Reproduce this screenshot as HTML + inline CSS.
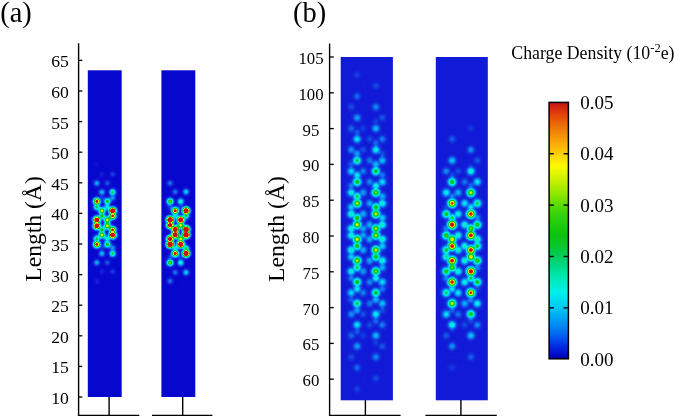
<!DOCTYPE html>
<html><head><meta charset="utf-8"><title>Charge density</title>
<style>
html,body{margin:0;padding:0;background:#fff;}
body{width:675px;height:418px;overflow:hidden;font-family:"Liberation Serif",serif;}
svg{display:block}
text{font-family:"Liberation Serif",serif;fill:#000}
.hm circle{mix-blend-mode:lighten}
.tk{font-size:17.6px}
.tkb{font-size:16.8px}
.tkc{font-size:19px}
.pl{font-size:28.4px}
.yl{font-size:24.2px}
.cl{font-size:17.8px}
</style></head><body>
<svg width="675" height="418" viewBox="0 0 675 418">
<defs>
<filter id="jet" filterUnits="userSpaceOnUse" x="0" y="0" width="675" height="418" color-interpolation-filters="sRGB">
<feComponentTransfer>
<feFuncR type="table" tableValues="0.000 0.000 0.001 0.017 0.069 0.074 0.070 0.065 0.060 0.050 0.038 0.026 0.014 0.001 0.000 0.000 0.000 0.000 0.000 0.000 0.000 0.000 0.000 0.000 0.000 0.000 0.006 0.019 0.033 0.039 0.039 0.042 0.074 0.106 0.138 0.169 0.206 0.267 0.328 0.400 0.479 0.556 0.620 0.685 0.749 0.812 0.872 0.932 0.992 0.997 0.993 0.989 0.984 0.980 0.975 0.966 0.952 0.939 0.925 0.916 0.908 0.894 0.852 0.810 0.769"/>
<feFuncG type="table" tableValues="0.000 0.000 0.001 0.017 0.082 0.170 0.261 0.351 0.442 0.512 0.574 0.635 0.696 0.757 0.813 0.868 0.924 0.935 0.927 0.918 0.910 0.900 0.877 0.853 0.833 0.815 0.801 0.794 0.787 0.780 0.772 0.766 0.778 0.790 0.802 0.814 0.826 0.841 0.857 0.872 0.888 0.903 0.914 0.925 0.935 0.946 0.957 0.968 0.979 0.930 0.873 0.815 0.762 0.708 0.655 0.603 0.550 0.497 0.444 0.385 0.324 0.262 0.201 0.140 0.078"/>
<feFuncB type="table" tableValues="0.549 0.651 0.749 0.795 0.837 0.863 0.887 0.910 0.934 0.944 0.948 0.952 0.956 0.960 0.955 0.949 0.943 0.901 0.841 0.782 0.722 0.662 0.599 0.536 0.468 0.396 0.325 0.255 0.186 0.134 0.095 0.058 0.054 0.051 0.047 0.043 0.037 0.021 0.006 0.000 0.000 0.000 0.000 0.000 0.000 0.000 0.000 0.000 0.000 0.011 0.024 0.037 0.037 0.035 0.033 0.030 0.027 0.024 0.020 0.025 0.033 0.041 0.051 0.061 0.071"/>
</feComponentTransfer>
<feGaussianBlur stdDeviation="0.6"/>
</filter>
<radialGradient id="g0"><stop offset="0.000" stop-color="rgb(26,26,26)"/><stop offset="0.062" stop-color="rgb(26,26,26)"/><stop offset="0.125" stop-color="rgb(25,25,25)"/><stop offset="0.188" stop-color="rgb(23,23,23)"/><stop offset="0.250" stop-color="rgb(21,21,21)"/><stop offset="0.312" stop-color="rgb(19,19,19)"/><stop offset="0.375" stop-color="rgb(17,17,17)"/><stop offset="0.438" stop-color="rgb(16,16,16)"/><stop offset="0.500" stop-color="rgb(15,15,15)"/><stop offset="0.562" stop-color="rgb(14,14,14)"/><stop offset="0.625" stop-color="rgb(14,14,14)"/><stop offset="0.688" stop-color="rgb(13,13,13)"/><stop offset="0.750" stop-color="rgb(13,13,13)"/><stop offset="0.812" stop-color="rgb(13,13,13)"/><stop offset="0.875" stop-color="rgb(13,13,13)"/><stop offset="0.938" stop-color="rgb(13,13,13)"/><stop offset="1.000" stop-color="rgb(13,13,13)"/></radialGradient>
<radialGradient id="g1"><stop offset="0.000" stop-color="rgb(46,46,46)"/><stop offset="0.062" stop-color="rgb(45,45,45)"/><stop offset="0.125" stop-color="rgb(43,43,43)"/><stop offset="0.188" stop-color="rgb(38,38,38)"/><stop offset="0.250" stop-color="rgb(34,34,34)"/><stop offset="0.312" stop-color="rgb(29,29,29)"/><stop offset="0.375" stop-color="rgb(24,24,24)"/><stop offset="0.438" stop-color="rgb(21,21,21)"/><stop offset="0.500" stop-color="rgb(18,18,18)"/><stop offset="0.562" stop-color="rgb(16,16,16)"/><stop offset="0.625" stop-color="rgb(15,15,15)"/><stop offset="0.688" stop-color="rgb(14,14,14)"/><stop offset="0.750" stop-color="rgb(13,13,13)"/><stop offset="0.812" stop-color="rgb(13,13,13)"/><stop offset="0.875" stop-color="rgb(13,13,13)"/><stop offset="0.938" stop-color="rgb(13,13,13)"/><stop offset="1.000" stop-color="rgb(13,13,13)"/></radialGradient>
<radialGradient id="g2"><stop offset="0.000" stop-color="rgb(40,40,40)"/><stop offset="0.062" stop-color="rgb(39,39,39)"/><stop offset="0.125" stop-color="rgb(37,37,37)"/><stop offset="0.188" stop-color="rgb(33,33,33)"/><stop offset="0.250" stop-color="rgb(29,29,29)"/><stop offset="0.312" stop-color="rgb(25,25,25)"/><stop offset="0.375" stop-color="rgb(22,22,22)"/><stop offset="0.438" stop-color="rgb(19,19,19)"/><stop offset="0.500" stop-color="rgb(17,17,17)"/><stop offset="0.562" stop-color="rgb(15,15,15)"/><stop offset="0.625" stop-color="rgb(14,14,14)"/><stop offset="0.688" stop-color="rgb(14,14,14)"/><stop offset="0.750" stop-color="rgb(13,13,13)"/><stop offset="0.812" stop-color="rgb(13,13,13)"/><stop offset="0.875" stop-color="rgb(13,13,13)"/><stop offset="0.938" stop-color="rgb(13,13,13)"/><stop offset="1.000" stop-color="rgb(13,13,13)"/></radialGradient>
<radialGradient id="g3"><stop offset="0.000" stop-color="rgb(33,33,33)"/><stop offset="0.062" stop-color="rgb(32,32,32)"/><stop offset="0.125" stop-color="rgb(31,31,31)"/><stop offset="0.188" stop-color="rgb(28,28,28)"/><stop offset="0.250" stop-color="rgb(25,25,25)"/><stop offset="0.312" stop-color="rgb(22,22,22)"/><stop offset="0.375" stop-color="rgb(20,20,20)"/><stop offset="0.438" stop-color="rgb(17,17,17)"/><stop offset="0.500" stop-color="rgb(16,16,16)"/><stop offset="0.562" stop-color="rgb(15,15,15)"/><stop offset="0.625" stop-color="rgb(14,14,14)"/><stop offset="0.688" stop-color="rgb(13,13,13)"/><stop offset="0.750" stop-color="rgb(13,13,13)"/><stop offset="0.812" stop-color="rgb(13,13,13)"/><stop offset="0.875" stop-color="rgb(13,13,13)"/><stop offset="0.938" stop-color="rgb(13,13,13)"/><stop offset="1.000" stop-color="rgb(13,13,13)"/></radialGradient>
<radialGradient id="g4"><stop offset="0.000" stop-color="rgb(107,107,107)"/><stop offset="0.062" stop-color="rgb(104,104,104)"/><stop offset="0.125" stop-color="rgb(96,96,96)"/><stop offset="0.188" stop-color="rgb(85,85,85)"/><stop offset="0.250" stop-color="rgb(71,71,71)"/><stop offset="0.312" stop-color="rgb(57,57,57)"/><stop offset="0.375" stop-color="rgb(45,45,45)"/><stop offset="0.438" stop-color="rgb(35,35,35)"/><stop offset="0.500" stop-color="rgb(27,27,27)"/><stop offset="0.562" stop-color="rgb(22,22,22)"/><stop offset="0.625" stop-color="rgb(18,18,18)"/><stop offset="0.688" stop-color="rgb(16,16,16)"/><stop offset="0.750" stop-color="rgb(15,15,15)"/><stop offset="0.812" stop-color="rgb(14,14,14)"/><stop offset="0.875" stop-color="rgb(13,13,13)"/><stop offset="0.938" stop-color="rgb(13,13,13)"/><stop offset="1.000" stop-color="rgb(13,13,13)"/></radialGradient>
<radialGradient id="g5"><stop offset="0.000" stop-color="rgb(67,67,67)"/><stop offset="0.062" stop-color="rgb(65,65,65)"/><stop offset="0.125" stop-color="rgb(60,60,60)"/><stop offset="0.188" stop-color="rgb(54,54,54)"/><stop offset="0.250" stop-color="rgb(46,46,46)"/><stop offset="0.312" stop-color="rgb(38,38,38)"/><stop offset="0.375" stop-color="rgb(31,31,31)"/><stop offset="0.438" stop-color="rgb(25,25,25)"/><stop offset="0.500" stop-color="rgb(21,21,21)"/><stop offset="0.562" stop-color="rgb(18,18,18)"/><stop offset="0.625" stop-color="rgb(16,16,16)"/><stop offset="0.688" stop-color="rgb(15,15,15)"/><stop offset="0.750" stop-color="rgb(14,14,14)"/><stop offset="0.812" stop-color="rgb(13,13,13)"/><stop offset="0.875" stop-color="rgb(13,13,13)"/><stop offset="0.938" stop-color="rgb(13,13,13)"/><stop offset="1.000" stop-color="rgb(13,13,13)"/></radialGradient>
<radialGradient id="g6"><stop offset="0.000" stop-color="rgb(80,80,80)"/><stop offset="0.062" stop-color="rgb(78,78,78)"/><stop offset="0.125" stop-color="rgb(72,72,72)"/><stop offset="0.188" stop-color="rgb(64,64,64)"/><stop offset="0.250" stop-color="rgb(54,54,54)"/><stop offset="0.312" stop-color="rgb(45,45,45)"/><stop offset="0.375" stop-color="rgb(36,36,36)"/><stop offset="0.438" stop-color="rgb(29,29,29)"/><stop offset="0.500" stop-color="rgb(23,23,23)"/><stop offset="0.562" stop-color="rgb(19,19,19)"/><stop offset="0.625" stop-color="rgb(17,17,17)"/><stop offset="0.688" stop-color="rgb(15,15,15)"/><stop offset="0.750" stop-color="rgb(14,14,14)"/><stop offset="0.812" stop-color="rgb(13,13,13)"/><stop offset="0.875" stop-color="rgb(13,13,13)"/><stop offset="0.938" stop-color="rgb(13,13,13)"/><stop offset="1.000" stop-color="rgb(13,13,13)"/></radialGradient>
<radialGradient id="g7"><stop offset="0.000" stop-color="rgb(87,87,87)"/><stop offset="0.062" stop-color="rgb(85,85,85)"/><stop offset="0.125" stop-color="rgb(78,78,78)"/><stop offset="0.188" stop-color="rgb(69,69,69)"/><stop offset="0.250" stop-color="rgb(59,59,59)"/><stop offset="0.312" stop-color="rgb(48,48,48)"/><stop offset="0.375" stop-color="rgb(38,38,38)"/><stop offset="0.438" stop-color="rgb(30,30,30)"/><stop offset="0.500" stop-color="rgb(24,24,24)"/><stop offset="0.562" stop-color="rgb(20,20,20)"/><stop offset="0.625" stop-color="rgb(17,17,17)"/><stop offset="0.688" stop-color="rgb(15,15,15)"/><stop offset="0.750" stop-color="rgb(14,14,14)"/><stop offset="0.812" stop-color="rgb(14,14,14)"/><stop offset="0.875" stop-color="rgb(13,13,13)"/><stop offset="0.938" stop-color="rgb(13,13,13)"/><stop offset="1.000" stop-color="rgb(13,13,13)"/></radialGradient>
<radialGradient id="g8"><stop offset="0.000" stop-color="rgb(100,100,100)"/><stop offset="0.062" stop-color="rgb(98,98,98)"/><stop offset="0.125" stop-color="rgb(90,90,90)"/><stop offset="0.188" stop-color="rgb(79,79,79)"/><stop offset="0.250" stop-color="rgb(67,67,67)"/><stop offset="0.312" stop-color="rgb(54,54,54)"/><stop offset="0.375" stop-color="rgb(43,43,43)"/><stop offset="0.438" stop-color="rgb(33,33,33)"/><stop offset="0.500" stop-color="rgb(26,26,26)"/><stop offset="0.562" stop-color="rgb(21,21,21)"/><stop offset="0.625" stop-color="rgb(18,18,18)"/><stop offset="0.688" stop-color="rgb(16,16,16)"/><stop offset="0.750" stop-color="rgb(14,14,14)"/><stop offset="0.812" stop-color="rgb(14,14,14)"/><stop offset="0.875" stop-color="rgb(13,13,13)"/><stop offset="0.938" stop-color="rgb(13,13,13)"/><stop offset="1.000" stop-color="rgb(13,13,13)"/></radialGradient>
<radialGradient id="g9"><stop offset="0.000" stop-color="rgb(167,167,167)"/><stop offset="0.062" stop-color="rgb(163,163,163)"/><stop offset="0.125" stop-color="rgb(150,150,150)"/><stop offset="0.188" stop-color="rgb(131,131,131)"/><stop offset="0.250" stop-color="rgb(108,108,108)"/><stop offset="0.312" stop-color="rgb(86,86,86)"/><stop offset="0.375" stop-color="rgb(66,66,66)"/><stop offset="0.438" stop-color="rgb(49,49,49)"/><stop offset="0.500" stop-color="rgb(37,37,37)"/><stop offset="0.562" stop-color="rgb(28,28,28)"/><stop offset="0.625" stop-color="rgb(22,22,22)"/><stop offset="0.688" stop-color="rgb(18,18,18)"/><stop offset="0.750" stop-color="rgb(16,16,16)"/><stop offset="0.812" stop-color="rgb(14,14,14)"/><stop offset="0.875" stop-color="rgb(14,14,14)"/><stop offset="0.938" stop-color="rgb(13,13,13)"/><stop offset="1.000" stop-color="rgb(13,13,13)"/></radialGradient>
<radialGradient id="g10"><stop offset="0.000" stop-color="rgb(120,120,120)"/><stop offset="0.062" stop-color="rgb(117,117,117)"/><stop offset="0.125" stop-color="rgb(108,108,108)"/><stop offset="0.188" stop-color="rgb(95,95,95)"/><stop offset="0.250" stop-color="rgb(79,79,79)"/><stop offset="0.312" stop-color="rgb(64,64,64)"/><stop offset="0.375" stop-color="rgb(50,50,50)"/><stop offset="0.438" stop-color="rgb(38,38,38)"/><stop offset="0.500" stop-color="rgb(29,29,29)"/><stop offset="0.562" stop-color="rgb(23,23,23)"/><stop offset="0.625" stop-color="rgb(19,19,19)"/><stop offset="0.688" stop-color="rgb(16,16,16)"/><stop offset="0.750" stop-color="rgb(15,15,15)"/><stop offset="0.812" stop-color="rgb(14,14,14)"/><stop offset="0.875" stop-color="rgb(13,13,13)"/><stop offset="0.938" stop-color="rgb(13,13,13)"/><stop offset="1.000" stop-color="rgb(13,13,13)"/></radialGradient>
<radialGradient id="g11"><stop offset="0.000" stop-color="rgb(181,181,181)"/><stop offset="0.062" stop-color="rgb(176,176,176)"/><stop offset="0.125" stop-color="rgb(162,162,162)"/><stop offset="0.188" stop-color="rgb(141,141,141)"/><stop offset="0.250" stop-color="rgb(117,117,117)"/><stop offset="0.312" stop-color="rgb(92,92,92)"/><stop offset="0.375" stop-color="rgb(70,70,70)"/><stop offset="0.438" stop-color="rgb(52,52,52)"/><stop offset="0.500" stop-color="rgb(39,39,39)"/><stop offset="0.562" stop-color="rgb(29,29,29)"/><stop offset="0.625" stop-color="rgb(23,23,23)"/><stop offset="0.688" stop-color="rgb(18,18,18)"/><stop offset="0.750" stop-color="rgb(16,16,16)"/><stop offset="0.812" stop-color="rgb(15,15,15)"/><stop offset="0.875" stop-color="rgb(14,14,14)"/><stop offset="0.938" stop-color="rgb(13,13,13)"/><stop offset="1.000" stop-color="rgb(13,13,13)"/></radialGradient>
<radialGradient id="g12"><stop offset="0.000" stop-color="rgb(127,127,127)"/><stop offset="0.062" stop-color="rgb(124,124,124)"/><stop offset="0.125" stop-color="rgb(114,114,114)"/><stop offset="0.188" stop-color="rgb(100,100,100)"/><stop offset="0.250" stop-color="rgb(83,83,83)"/><stop offset="0.312" stop-color="rgb(67,67,67)"/><stop offset="0.375" stop-color="rgb(52,52,52)"/><stop offset="0.438" stop-color="rgb(40,40,40)"/><stop offset="0.500" stop-color="rgb(30,30,30)"/><stop offset="0.562" stop-color="rgb(24,24,24)"/><stop offset="0.625" stop-color="rgb(19,19,19)"/><stop offset="0.688" stop-color="rgb(17,17,17)"/><stop offset="0.750" stop-color="rgb(15,15,15)"/><stop offset="0.812" stop-color="rgb(14,14,14)"/><stop offset="0.875" stop-color="rgb(13,13,13)"/><stop offset="0.938" stop-color="rgb(13,13,13)"/><stop offset="1.000" stop-color="rgb(13,13,13)"/></radialGradient>
<radialGradient id="g13"><stop offset="0.000" stop-color="rgb(154,154,154)"/><stop offset="0.062" stop-color="rgb(150,150,150)"/><stop offset="0.125" stop-color="rgb(138,138,138)"/><stop offset="0.188" stop-color="rgb(120,120,120)"/><stop offset="0.250" stop-color="rgb(100,100,100)"/><stop offset="0.312" stop-color="rgb(80,80,80)"/><stop offset="0.375" stop-color="rgb(61,61,61)"/><stop offset="0.438" stop-color="rgb(46,46,46)"/><stop offset="0.500" stop-color="rgb(34,34,34)"/><stop offset="0.562" stop-color="rgb(26,26,26)"/><stop offset="0.625" stop-color="rgb(21,21,21)"/><stop offset="0.688" stop-color="rgb(18,18,18)"/><stop offset="0.750" stop-color="rgb(16,16,16)"/><stop offset="0.812" stop-color="rgb(14,14,14)"/><stop offset="0.875" stop-color="rgb(14,14,14)"/><stop offset="0.938" stop-color="rgb(13,13,13)"/><stop offset="1.000" stop-color="rgb(13,13,13)"/></radialGradient>
<radialGradient id="g14"><stop offset="0.000" stop-color="rgb(134,134,134)"/><stop offset="0.062" stop-color="rgb(130,130,130)"/><stop offset="0.125" stop-color="rgb(120,120,120)"/><stop offset="0.188" stop-color="rgb(105,105,105)"/><stop offset="0.250" stop-color="rgb(88,88,88)"/><stop offset="0.312" stop-color="rgb(70,70,70)"/><stop offset="0.375" stop-color="rgb(54,54,54)"/><stop offset="0.438" stop-color="rgb(41,41,41)"/><stop offset="0.500" stop-color="rgb(31,31,31)"/><stop offset="0.562" stop-color="rgb(24,24,24)"/><stop offset="0.625" stop-color="rgb(20,20,20)"/><stop offset="0.688" stop-color="rgb(17,17,17)"/><stop offset="0.750" stop-color="rgb(15,15,15)"/><stop offset="0.812" stop-color="rgb(14,14,14)"/><stop offset="0.875" stop-color="rgb(13,13,13)"/><stop offset="0.938" stop-color="rgb(13,13,13)"/><stop offset="1.000" stop-color="rgb(13,13,13)"/></radialGradient>
<radialGradient id="g15"><stop offset="0.000" stop-color="rgb(188,188,188)"/><stop offset="0.062" stop-color="rgb(182,182,182)"/><stop offset="0.125" stop-color="rgb(168,168,168)"/><stop offset="0.188" stop-color="rgb(146,146,146)"/><stop offset="0.250" stop-color="rgb(121,121,121)"/><stop offset="0.312" stop-color="rgb(96,96,96)"/><stop offset="0.375" stop-color="rgb(73,73,73)"/><stop offset="0.438" stop-color="rgb(54,54,54)"/><stop offset="0.500" stop-color="rgb(40,40,40)"/><stop offset="0.562" stop-color="rgb(30,30,30)"/><stop offset="0.625" stop-color="rgb(23,23,23)"/><stop offset="0.688" stop-color="rgb(19,19,19)"/><stop offset="0.750" stop-color="rgb(16,16,16)"/><stop offset="0.812" stop-color="rgb(15,15,15)"/><stop offset="0.875" stop-color="rgb(14,14,14)"/><stop offset="0.938" stop-color="rgb(13,13,13)"/><stop offset="1.000" stop-color="rgb(13,13,13)"/></radialGradient>
<radialGradient id="g16"><stop offset="0.000" stop-color="rgb(107,107,107)"/><stop offset="0.062" stop-color="rgb(104,104,104)"/><stop offset="0.125" stop-color="rgb(96,96,96)"/><stop offset="0.188" stop-color="rgb(85,85,85)"/><stop offset="0.250" stop-color="rgb(72,72,72)"/><stop offset="0.312" stop-color="rgb(59,59,59)"/><stop offset="0.375" stop-color="rgb(47,47,47)"/><stop offset="0.438" stop-color="rgb(38,38,38)"/><stop offset="0.500" stop-color="rgb(30,30,30)"/><stop offset="0.562" stop-color="rgb(25,25,25)"/><stop offset="0.625" stop-color="rgb(22,22,22)"/><stop offset="0.688" stop-color="rgb(20,20,20)"/><stop offset="0.750" stop-color="rgb(18,18,18)"/><stop offset="0.812" stop-color="rgb(18,18,18)"/><stop offset="0.875" stop-color="rgb(17,17,17)"/><stop offset="0.938" stop-color="rgb(17,17,17)"/><stop offset="1.000" stop-color="rgb(17,17,17)"/></radialGradient>
<radialGradient id="g17"><stop offset="0.000" stop-color="rgb(73,73,73)"/><stop offset="0.062" stop-color="rgb(71,71,71)"/><stop offset="0.125" stop-color="rgb(67,67,67)"/><stop offset="0.188" stop-color="rgb(60,60,60)"/><stop offset="0.250" stop-color="rgb(52,52,52)"/><stop offset="0.312" stop-color="rgb(43,43,43)"/><stop offset="0.375" stop-color="rgb(36,36,36)"/><stop offset="0.438" stop-color="rgb(30,30,30)"/><stop offset="0.500" stop-color="rgb(25,25,25)"/><stop offset="0.562" stop-color="rgb(22,22,22)"/><stop offset="0.625" stop-color="rgb(20,20,20)"/><stop offset="0.688" stop-color="rgb(19,19,19)"/><stop offset="0.750" stop-color="rgb(18,18,18)"/><stop offset="0.812" stop-color="rgb(17,17,17)"/><stop offset="0.875" stop-color="rgb(17,17,17)"/><stop offset="0.938" stop-color="rgb(17,17,17)"/><stop offset="1.000" stop-color="rgb(17,17,17)"/></radialGradient>
<radialGradient id="g18"><stop offset="0.000" stop-color="rgb(53,53,53)"/><stop offset="0.062" stop-color="rgb(52,52,52)"/><stop offset="0.125" stop-color="rgb(49,49,49)"/><stop offset="0.188" stop-color="rgb(44,44,44)"/><stop offset="0.250" stop-color="rgb(39,39,39)"/><stop offset="0.312" stop-color="rgb(34,34,34)"/><stop offset="0.375" stop-color="rgb(29,29,29)"/><stop offset="0.438" stop-color="rgb(25,25,25)"/><stop offset="0.500" stop-color="rgb(22,22,22)"/><stop offset="0.562" stop-color="rgb(20,20,20)"/><stop offset="0.625" stop-color="rgb(19,19,19)"/><stop offset="0.688" stop-color="rgb(18,18,18)"/><stop offset="0.750" stop-color="rgb(17,17,17)"/><stop offset="0.812" stop-color="rgb(17,17,17)"/><stop offset="0.875" stop-color="rgb(17,17,17)"/><stop offset="0.938" stop-color="rgb(17,17,17)"/><stop offset="1.000" stop-color="rgb(17,17,17)"/></radialGradient>
<radialGradient id="g19"><stop offset="0.000" stop-color="rgb(93,93,93)"/><stop offset="0.062" stop-color="rgb(91,91,91)"/><stop offset="0.125" stop-color="rgb(85,85,85)"/><stop offset="0.188" stop-color="rgb(75,75,75)"/><stop offset="0.250" stop-color="rgb(64,64,64)"/><stop offset="0.312" stop-color="rgb(53,53,53)"/><stop offset="0.375" stop-color="rgb(43,43,43)"/><stop offset="0.438" stop-color="rgb(35,35,35)"/><stop offset="0.500" stop-color="rgb(28,28,28)"/><stop offset="0.562" stop-color="rgb(24,24,24)"/><stop offset="0.625" stop-color="rgb(21,21,21)"/><stop offset="0.688" stop-color="rgb(19,19,19)"/><stop offset="0.750" stop-color="rgb(18,18,18)"/><stop offset="0.812" stop-color="rgb(17,17,17)"/><stop offset="0.875" stop-color="rgb(17,17,17)"/><stop offset="0.938" stop-color="rgb(17,17,17)"/><stop offset="1.000" stop-color="rgb(17,17,17)"/></radialGradient>
<radialGradient id="g20"><stop offset="0.000" stop-color="rgb(60,60,60)"/><stop offset="0.062" stop-color="rgb(58,58,58)"/><stop offset="0.125" stop-color="rgb(55,55,55)"/><stop offset="0.188" stop-color="rgb(49,49,49)"/><stop offset="0.250" stop-color="rgb(43,43,43)"/><stop offset="0.312" stop-color="rgb(37,37,37)"/><stop offset="0.375" stop-color="rgb(31,31,31)"/><stop offset="0.438" stop-color="rgb(27,27,27)"/><stop offset="0.500" stop-color="rgb(23,23,23)"/><stop offset="0.562" stop-color="rgb(21,21,21)"/><stop offset="0.625" stop-color="rgb(19,19,19)"/><stop offset="0.688" stop-color="rgb(18,18,18)"/><stop offset="0.750" stop-color="rgb(17,17,17)"/><stop offset="0.812" stop-color="rgb(17,17,17)"/><stop offset="0.875" stop-color="rgb(17,17,17)"/><stop offset="0.938" stop-color="rgb(17,17,17)"/><stop offset="1.000" stop-color="rgb(17,17,17)"/></radialGradient>
<radialGradient id="g21"><stop offset="0.000" stop-color="rgb(66,66,66)"/><stop offset="0.062" stop-color="rgb(65,65,65)"/><stop offset="0.125" stop-color="rgb(61,61,61)"/><stop offset="0.188" stop-color="rgb(55,55,55)"/><stop offset="0.250" stop-color="rgb(47,47,47)"/><stop offset="0.312" stop-color="rgb(40,40,40)"/><stop offset="0.375" stop-color="rgb(34,34,34)"/><stop offset="0.438" stop-color="rgb(28,28,28)"/><stop offset="0.500" stop-color="rgb(24,24,24)"/><stop offset="0.562" stop-color="rgb(21,21,21)"/><stop offset="0.625" stop-color="rgb(19,19,19)"/><stop offset="0.688" stop-color="rgb(18,18,18)"/><stop offset="0.750" stop-color="rgb(18,18,18)"/><stop offset="0.812" stop-color="rgb(17,17,17)"/><stop offset="0.875" stop-color="rgb(17,17,17)"/><stop offset="0.938" stop-color="rgb(17,17,17)"/><stop offset="1.000" stop-color="rgb(17,17,17)"/></radialGradient>
<radialGradient id="g22"><stop offset="0.000" stop-color="rgb(46,46,46)"/><stop offset="0.062" stop-color="rgb(45,45,45)"/><stop offset="0.125" stop-color="rgb(43,43,43)"/><stop offset="0.188" stop-color="rgb(39,39,39)"/><stop offset="0.250" stop-color="rgb(35,35,35)"/><stop offset="0.312" stop-color="rgb(31,31,31)"/><stop offset="0.375" stop-color="rgb(27,27,27)"/><stop offset="0.438" stop-color="rgb(24,24,24)"/><stop offset="0.500" stop-color="rgb(21,21,21)"/><stop offset="0.562" stop-color="rgb(19,19,19)"/><stop offset="0.625" stop-color="rgb(18,18,18)"/><stop offset="0.688" stop-color="rgb(18,18,18)"/><stop offset="0.750" stop-color="rgb(17,17,17)"/><stop offset="0.812" stop-color="rgb(17,17,17)"/><stop offset="0.875" stop-color="rgb(17,17,17)"/><stop offset="0.938" stop-color="rgb(17,17,17)"/><stop offset="1.000" stop-color="rgb(17,17,17)"/></radialGradient>
<radialGradient id="g23"><stop offset="0.000" stop-color="rgb(39,39,39)"/><stop offset="0.062" stop-color="rgb(39,39,39)"/><stop offset="0.125" stop-color="rgb(37,37,37)"/><stop offset="0.188" stop-color="rgb(34,34,34)"/><stop offset="0.250" stop-color="rgb(31,31,31)"/><stop offset="0.312" stop-color="rgb(27,27,27)"/><stop offset="0.375" stop-color="rgb(24,24,24)"/><stop offset="0.438" stop-color="rgb(22,22,22)"/><stop offset="0.500" stop-color="rgb(20,20,20)"/><stop offset="0.562" stop-color="rgb(19,19,19)"/><stop offset="0.625" stop-color="rgb(18,18,18)"/><stop offset="0.688" stop-color="rgb(17,17,17)"/><stop offset="0.750" stop-color="rgb(17,17,17)"/><stop offset="0.812" stop-color="rgb(17,17,17)"/><stop offset="0.875" stop-color="rgb(17,17,17)"/><stop offset="0.938" stop-color="rgb(17,17,17)"/><stop offset="1.000" stop-color="rgb(17,17,17)"/></radialGradient>
<radialGradient id="g24"><stop offset="0.000" stop-color="rgb(33,33,33)"/><stop offset="0.062" stop-color="rgb(32,32,32)"/><stop offset="0.125" stop-color="rgb(31,31,31)"/><stop offset="0.188" stop-color="rgb(29,29,29)"/><stop offset="0.250" stop-color="rgb(27,27,27)"/><stop offset="0.312" stop-color="rgb(24,24,24)"/><stop offset="0.375" stop-color="rgb(22,22,22)"/><stop offset="0.438" stop-color="rgb(20,20,20)"/><stop offset="0.500" stop-color="rgb(19,19,19)"/><stop offset="0.562" stop-color="rgb(18,18,18)"/><stop offset="0.625" stop-color="rgb(18,18,18)"/><stop offset="0.688" stop-color="rgb(17,17,17)"/><stop offset="0.750" stop-color="rgb(17,17,17)"/><stop offset="0.812" stop-color="rgb(17,17,17)"/><stop offset="0.875" stop-color="rgb(17,17,17)"/><stop offset="0.938" stop-color="rgb(17,17,17)"/><stop offset="1.000" stop-color="rgb(17,17,17)"/></radialGradient>
<radialGradient id="g25"><stop offset="0.000" stop-color="rgb(113,113,113)"/><stop offset="0.062" stop-color="rgb(111,111,111)"/><stop offset="0.125" stop-color="rgb(102,102,102)"/><stop offset="0.188" stop-color="rgb(90,90,90)"/><stop offset="0.250" stop-color="rgb(76,76,76)"/><stop offset="0.312" stop-color="rgb(62,62,62)"/><stop offset="0.375" stop-color="rgb(50,50,50)"/><stop offset="0.438" stop-color="rgb(39,39,39)"/><stop offset="0.500" stop-color="rgb(31,31,31)"/><stop offset="0.562" stop-color="rgb(26,26,26)"/><stop offset="0.625" stop-color="rgb(22,22,22)"/><stop offset="0.688" stop-color="rgb(20,20,20)"/><stop offset="0.750" stop-color="rgb(18,18,18)"/><stop offset="0.812" stop-color="rgb(18,18,18)"/><stop offset="0.875" stop-color="rgb(17,17,17)"/><stop offset="0.938" stop-color="rgb(17,17,17)"/><stop offset="1.000" stop-color="rgb(17,17,17)"/></radialGradient>
<radialGradient id="g26"><stop offset="0.000" stop-color="rgb(26,26,26)"/><stop offset="0.062" stop-color="rgb(26,26,26)"/><stop offset="0.125" stop-color="rgb(25,25,25)"/><stop offset="0.188" stop-color="rgb(24,24,24)"/><stop offset="0.250" stop-color="rgb(22,22,22)"/><stop offset="0.312" stop-color="rgb(21,21,21)"/><stop offset="0.375" stop-color="rgb(20,20,20)"/><stop offset="0.438" stop-color="rgb(19,19,19)"/><stop offset="0.500" stop-color="rgb(18,18,18)"/><stop offset="0.562" stop-color="rgb(17,17,17)"/><stop offset="0.625" stop-color="rgb(17,17,17)"/><stop offset="0.688" stop-color="rgb(17,17,17)"/><stop offset="0.750" stop-color="rgb(17,17,17)"/><stop offset="0.812" stop-color="rgb(17,17,17)"/><stop offset="0.875" stop-color="rgb(17,17,17)"/><stop offset="0.938" stop-color="rgb(17,17,17)"/><stop offset="1.000" stop-color="rgb(17,17,17)"/></radialGradient>
<radialGradient id="g27"><stop offset="0.000" stop-color="rgb(154,154,154)"/><stop offset="0.062" stop-color="rgb(150,150,150)"/><stop offset="0.125" stop-color="rgb(138,138,138)"/><stop offset="0.188" stop-color="rgb(121,121,121)"/><stop offset="0.250" stop-color="rgb(101,101,101)"/><stop offset="0.312" stop-color="rgb(82,82,82)"/><stop offset="0.375" stop-color="rgb(64,64,64)"/><stop offset="0.438" stop-color="rgb(49,49,49)"/><stop offset="0.500" stop-color="rgb(38,38,38)"/><stop offset="0.562" stop-color="rgb(30,30,30)"/><stop offset="0.625" stop-color="rgb(25,25,25)"/><stop offset="0.688" stop-color="rgb(21,21,21)"/><stop offset="0.750" stop-color="rgb(19,19,19)"/><stop offset="0.812" stop-color="rgb(18,18,18)"/><stop offset="0.875" stop-color="rgb(17,17,17)"/><stop offset="0.938" stop-color="rgb(17,17,17)"/><stop offset="1.000" stop-color="rgb(17,17,17)"/></radialGradient>
<radialGradient id="g28"><stop offset="0.000" stop-color="rgb(100,100,100)"/><stop offset="0.062" stop-color="rgb(97,97,97)"/><stop offset="0.125" stop-color="rgb(90,90,90)"/><stop offset="0.188" stop-color="rgb(80,80,80)"/><stop offset="0.250" stop-color="rgb(68,68,68)"/><stop offset="0.312" stop-color="rgb(56,56,56)"/><stop offset="0.375" stop-color="rgb(45,45,45)"/><stop offset="0.438" stop-color="rgb(36,36,36)"/><stop offset="0.500" stop-color="rgb(29,29,29)"/><stop offset="0.562" stop-color="rgb(25,25,25)"/><stop offset="0.625" stop-color="rgb(21,21,21)"/><stop offset="0.688" stop-color="rgb(19,19,19)"/><stop offset="0.750" stop-color="rgb(18,18,18)"/><stop offset="0.812" stop-color="rgb(17,17,17)"/><stop offset="0.875" stop-color="rgb(17,17,17)"/><stop offset="0.938" stop-color="rgb(17,17,17)"/><stop offset="1.000" stop-color="rgb(17,17,17)"/></radialGradient>
<radialGradient id="g29"><stop offset="0.000" stop-color="rgb(80,80,80)"/><stop offset="0.062" stop-color="rgb(78,78,78)"/><stop offset="0.125" stop-color="rgb(73,73,73)"/><stop offset="0.188" stop-color="rgb(65,65,65)"/><stop offset="0.250" stop-color="rgb(56,56,56)"/><stop offset="0.312" stop-color="rgb(47,47,47)"/><stop offset="0.375" stop-color="rgb(38,38,38)"/><stop offset="0.438" stop-color="rgb(31,31,31)"/><stop offset="0.500" stop-color="rgb(26,26,26)"/><stop offset="0.562" stop-color="rgb(23,23,23)"/><stop offset="0.625" stop-color="rgb(20,20,20)"/><stop offset="0.688" stop-color="rgb(19,19,19)"/><stop offset="0.750" stop-color="rgb(18,18,18)"/><stop offset="0.812" stop-color="rgb(17,17,17)"/><stop offset="0.875" stop-color="rgb(17,17,17)"/><stop offset="0.938" stop-color="rgb(17,17,17)"/><stop offset="1.000" stop-color="rgb(17,17,17)"/></radialGradient>
<radialGradient id="g30"><stop offset="0.000" stop-color="rgb(86,86,86)"/><stop offset="0.062" stop-color="rgb(84,84,84)"/><stop offset="0.125" stop-color="rgb(79,79,79)"/><stop offset="0.188" stop-color="rgb(70,70,70)"/><stop offset="0.250" stop-color="rgb(60,60,60)"/><stop offset="0.312" stop-color="rgb(50,50,50)"/><stop offset="0.375" stop-color="rgb(41,41,41)"/><stop offset="0.438" stop-color="rgb(33,33,33)"/><stop offset="0.500" stop-color="rgb(27,27,27)"/><stop offset="0.562" stop-color="rgb(23,23,23)"/><stop offset="0.625" stop-color="rgb(21,21,21)"/><stop offset="0.688" stop-color="rgb(19,19,19)"/><stop offset="0.750" stop-color="rgb(18,18,18)"/><stop offset="0.812" stop-color="rgb(17,17,17)"/><stop offset="0.875" stop-color="rgb(17,17,17)"/><stop offset="0.938" stop-color="rgb(17,17,17)"/><stop offset="1.000" stop-color="rgb(17,17,17)"/></radialGradient>
<radialGradient id="g31"><stop offset="0.000" stop-color="rgb(134,134,134)"/><stop offset="0.062" stop-color="rgb(130,130,130)"/><stop offset="0.125" stop-color="rgb(120,120,120)"/><stop offset="0.188" stop-color="rgb(106,106,106)"/><stop offset="0.250" stop-color="rgb(89,89,89)"/><stop offset="0.312" stop-color="rgb(72,72,72)"/><stop offset="0.375" stop-color="rgb(57,57,57)"/><stop offset="0.438" stop-color="rgb(44,44,44)"/><stop offset="0.500" stop-color="rgb(35,35,35)"/><stop offset="0.562" stop-color="rgb(28,28,28)"/><stop offset="0.625" stop-color="rgb(23,23,23)"/><stop offset="0.688" stop-color="rgb(21,21,21)"/><stop offset="0.750" stop-color="rgb(19,19,19)"/><stop offset="0.812" stop-color="rgb(18,18,18)"/><stop offset="0.875" stop-color="rgb(17,17,17)"/><stop offset="0.938" stop-color="rgb(17,17,17)"/><stop offset="1.000" stop-color="rgb(17,17,17)"/></radialGradient>
<radialGradient id="g32"><stop offset="0.000" stop-color="rgb(18,18,18)"/><stop offset="0.062" stop-color="rgb(18,18,18)"/><stop offset="0.125" stop-color="rgb(18,18,18)"/><stop offset="0.188" stop-color="rgb(17,17,17)"/><stop offset="0.250" stop-color="rgb(16,16,16)"/><stop offset="0.312" stop-color="rgb(15,15,15)"/><stop offset="0.375" stop-color="rgb(15,15,15)"/><stop offset="0.438" stop-color="rgb(14,14,14)"/><stop offset="0.500" stop-color="rgb(14,14,14)"/><stop offset="0.562" stop-color="rgb(13,13,13)"/><stop offset="0.625" stop-color="rgb(13,13,13)"/><stop offset="0.688" stop-color="rgb(13,13,13)"/><stop offset="0.750" stop-color="rgb(13,13,13)"/><stop offset="0.812" stop-color="rgb(13,13,13)"/><stop offset="0.875" stop-color="rgb(13,13,13)"/><stop offset="0.938" stop-color="rgb(13,13,13)"/><stop offset="1.000" stop-color="rgb(13,13,13)"/></radialGradient>
<radialGradient id="g33"><stop offset="0.000" stop-color="rgb(24,24,24)"/><stop offset="0.062" stop-color="rgb(23,23,23)"/><stop offset="0.125" stop-color="rgb(22,22,22)"/><stop offset="0.188" stop-color="rgb(21,21,21)"/><stop offset="0.250" stop-color="rgb(19,19,19)"/><stop offset="0.312" stop-color="rgb(18,18,18)"/><stop offset="0.375" stop-color="rgb(16,16,16)"/><stop offset="0.438" stop-color="rgb(15,15,15)"/><stop offset="0.500" stop-color="rgb(14,14,14)"/><stop offset="0.562" stop-color="rgb(14,14,14)"/><stop offset="0.625" stop-color="rgb(13,13,13)"/><stop offset="0.688" stop-color="rgb(13,13,13)"/><stop offset="0.750" stop-color="rgb(13,13,13)"/><stop offset="0.812" stop-color="rgb(13,13,13)"/><stop offset="0.875" stop-color="rgb(13,13,13)"/><stop offset="0.938" stop-color="rgb(13,13,13)"/><stop offset="1.000" stop-color="rgb(13,13,13)"/></radialGradient>
<radialGradient id="g34"><stop offset="0.000" stop-color="rgb(48,48,48)"/><stop offset="0.062" stop-color="rgb(47,47,47)"/><stop offset="0.125" stop-color="rgb(44,44,44)"/><stop offset="0.188" stop-color="rgb(39,39,39)"/><stop offset="0.250" stop-color="rgb(34,34,34)"/><stop offset="0.312" stop-color="rgb(29,29,29)"/><stop offset="0.375" stop-color="rgb(25,25,25)"/><stop offset="0.438" stop-color="rgb(21,21,21)"/><stop offset="0.500" stop-color="rgb(18,18,18)"/><stop offset="0.562" stop-color="rgb(16,16,16)"/><stop offset="0.625" stop-color="rgb(15,15,15)"/><stop offset="0.688" stop-color="rgb(14,14,14)"/><stop offset="0.750" stop-color="rgb(13,13,13)"/><stop offset="0.812" stop-color="rgb(13,13,13)"/><stop offset="0.875" stop-color="rgb(13,13,13)"/><stop offset="0.938" stop-color="rgb(13,13,13)"/><stop offset="1.000" stop-color="rgb(13,13,13)"/></radialGradient>
<radialGradient id="g35"><stop offset="0.000" stop-color="rgb(29,29,29)"/><stop offset="0.062" stop-color="rgb(28,28,28)"/><stop offset="0.125" stop-color="rgb(27,27,27)"/><stop offset="0.188" stop-color="rgb(25,25,25)"/><stop offset="0.250" stop-color="rgb(23,23,23)"/><stop offset="0.312" stop-color="rgb(20,20,20)"/><stop offset="0.375" stop-color="rgb(18,18,18)"/><stop offset="0.438" stop-color="rgb(17,17,17)"/><stop offset="0.500" stop-color="rgb(15,15,15)"/><stop offset="0.562" stop-color="rgb(14,14,14)"/><stop offset="0.625" stop-color="rgb(14,14,14)"/><stop offset="0.688" stop-color="rgb(13,13,13)"/><stop offset="0.750" stop-color="rgb(13,13,13)"/><stop offset="0.812" stop-color="rgb(13,13,13)"/><stop offset="0.875" stop-color="rgb(13,13,13)"/><stop offset="0.938" stop-color="rgb(13,13,13)"/><stop offset="1.000" stop-color="rgb(13,13,13)"/></radialGradient>
<radialGradient id="g36"><stop offset="0.000" stop-color="rgb(53,53,53)"/><stop offset="0.062" stop-color="rgb(52,52,52)"/><stop offset="0.125" stop-color="rgb(49,49,49)"/><stop offset="0.188" stop-color="rgb(44,44,44)"/><stop offset="0.250" stop-color="rgb(38,38,38)"/><stop offset="0.312" stop-color="rgb(32,32,32)"/><stop offset="0.375" stop-color="rgb(27,27,27)"/><stop offset="0.438" stop-color="rgb(22,22,22)"/><stop offset="0.500" stop-color="rgb(19,19,19)"/><stop offset="0.562" stop-color="rgb(17,17,17)"/><stop offset="0.625" stop-color="rgb(15,15,15)"/><stop offset="0.688" stop-color="rgb(14,14,14)"/><stop offset="0.750" stop-color="rgb(14,14,14)"/><stop offset="0.812" stop-color="rgb(13,13,13)"/><stop offset="0.875" stop-color="rgb(13,13,13)"/><stop offset="0.938" stop-color="rgb(13,13,13)"/><stop offset="1.000" stop-color="rgb(13,13,13)"/></radialGradient>
<radialGradient id="g37"><stop offset="0.000" stop-color="rgb(45,45,45)"/><stop offset="0.062" stop-color="rgb(44,44,44)"/><stop offset="0.125" stop-color="rgb(41,41,41)"/><stop offset="0.188" stop-color="rgb(37,37,37)"/><stop offset="0.250" stop-color="rgb(33,33,33)"/><stop offset="0.312" stop-color="rgb(28,28,28)"/><stop offset="0.375" stop-color="rgb(24,24,24)"/><stop offset="0.438" stop-color="rgb(20,20,20)"/><stop offset="0.500" stop-color="rgb(18,18,18)"/><stop offset="0.562" stop-color="rgb(16,16,16)"/><stop offset="0.625" stop-color="rgb(15,15,15)"/><stop offset="0.688" stop-color="rgb(14,14,14)"/><stop offset="0.750" stop-color="rgb(13,13,13)"/><stop offset="0.812" stop-color="rgb(13,13,13)"/><stop offset="0.875" stop-color="rgb(13,13,13)"/><stop offset="0.938" stop-color="rgb(13,13,13)"/><stop offset="1.000" stop-color="rgb(13,13,13)"/></radialGradient>
<radialGradient id="g38"><stop offset="0.000" stop-color="rgb(21,21,21)"/><stop offset="0.062" stop-color="rgb(21,21,21)"/><stop offset="0.125" stop-color="rgb(20,20,20)"/><stop offset="0.188" stop-color="rgb(19,19,19)"/><stop offset="0.250" stop-color="rgb(18,18,18)"/><stop offset="0.312" stop-color="rgb(17,17,17)"/><stop offset="0.375" stop-color="rgb(16,16,16)"/><stop offset="0.438" stop-color="rgb(15,15,15)"/><stop offset="0.500" stop-color="rgb(14,14,14)"/><stop offset="0.562" stop-color="rgb(14,14,14)"/><stop offset="0.625" stop-color="rgb(13,13,13)"/><stop offset="0.688" stop-color="rgb(13,13,13)"/><stop offset="0.750" stop-color="rgb(13,13,13)"/><stop offset="0.812" stop-color="rgb(13,13,13)"/><stop offset="0.875" stop-color="rgb(13,13,13)"/><stop offset="0.938" stop-color="rgb(13,13,13)"/><stop offset="1.000" stop-color="rgb(13,13,13)"/></radialGradient>
<radialGradient id="g39"><stop offset="0.000" stop-color="rgb(255,255,255)"/><stop offset="0.062" stop-color="rgb(255,255,255)"/><stop offset="0.125" stop-color="rgb(255,255,255)"/><stop offset="0.188" stop-color="rgb(237,237,237)"/><stop offset="0.250" stop-color="rgb(195,195,195)"/><stop offset="0.312" stop-color="rgb(152,152,152)"/><stop offset="0.375" stop-color="rgb(114,114,114)"/><stop offset="0.438" stop-color="rgb(82,82,82)"/><stop offset="0.500" stop-color="rgb(58,58,58)"/><stop offset="0.562" stop-color="rgb(41,41,41)"/><stop offset="0.625" stop-color="rgb(30,30,30)"/><stop offset="0.688" stop-color="rgb(23,23,23)"/><stop offset="0.750" stop-color="rgb(19,19,19)"/><stop offset="0.812" stop-color="rgb(16,16,16)"/><stop offset="0.875" stop-color="rgb(14,14,14)"/><stop offset="0.938" stop-color="rgb(13,13,13)"/><stop offset="1.000" stop-color="rgb(13,13,13)"/></radialGradient>
<radialGradient id="g40"><stop offset="0.000" stop-color="rgb(112,112,112)"/><stop offset="0.062" stop-color="rgb(109,109,109)"/><stop offset="0.125" stop-color="rgb(101,101,101)"/><stop offset="0.188" stop-color="rgb(89,89,89)"/><stop offset="0.250" stop-color="rgb(74,74,74)"/><stop offset="0.312" stop-color="rgb(60,60,60)"/><stop offset="0.375" stop-color="rgb(47,47,47)"/><stop offset="0.438" stop-color="rgb(36,36,36)"/><stop offset="0.500" stop-color="rgb(28,28,28)"/><stop offset="0.562" stop-color="rgb(22,22,22)"/><stop offset="0.625" stop-color="rgb(19,19,19)"/><stop offset="0.688" stop-color="rgb(16,16,16)"/><stop offset="0.750" stop-color="rgb(15,15,15)"/><stop offset="0.812" stop-color="rgb(14,14,14)"/><stop offset="0.875" stop-color="rgb(13,13,13)"/><stop offset="0.938" stop-color="rgb(13,13,13)"/><stop offset="1.000" stop-color="rgb(13,13,13)"/></radialGradient>
<radialGradient id="g41"><stop offset="0.000" stop-color="rgb(201,201,201)"/><stop offset="0.062" stop-color="rgb(195,195,195)"/><stop offset="0.125" stop-color="rgb(180,180,180)"/><stop offset="0.188" stop-color="rgb(156,156,156)"/><stop offset="0.250" stop-color="rgb(129,129,129)"/><stop offset="0.312" stop-color="rgb(102,102,102)"/><stop offset="0.375" stop-color="rgb(77,77,77)"/><stop offset="0.438" stop-color="rgb(57,57,57)"/><stop offset="0.500" stop-color="rgb(42,42,42)"/><stop offset="0.562" stop-color="rgb(31,31,31)"/><stop offset="0.625" stop-color="rgb(24,24,24)"/><stop offset="0.688" stop-color="rgb(19,19,19)"/><stop offset="0.750" stop-color="rgb(16,16,16)"/><stop offset="0.812" stop-color="rgb(15,15,15)"/><stop offset="0.875" stop-color="rgb(14,14,14)"/><stop offset="0.938" stop-color="rgb(13,13,13)"/><stop offset="1.000" stop-color="rgb(13,13,13)"/></radialGradient>
<radialGradient id="g42"><stop offset="0.000" stop-color="rgb(255,255,255)"/><stop offset="0.062" stop-color="rgb(255,255,255)"/><stop offset="0.125" stop-color="rgb(255,255,255)"/><stop offset="0.188" stop-color="rgb(255,255,255)"/><stop offset="0.250" stop-color="rgb(255,255,255)"/><stop offset="0.312" stop-color="rgb(255,255,255)"/><stop offset="0.375" stop-color="rgb(195,195,195)"/><stop offset="0.438" stop-color="rgb(138,138,138)"/><stop offset="0.500" stop-color="rgb(95,95,95)"/><stop offset="0.562" stop-color="rgb(64,64,64)"/><stop offset="0.625" stop-color="rgb(44,44,44)"/><stop offset="0.688" stop-color="rgb(31,31,31)"/><stop offset="0.750" stop-color="rgb(23,23,23)"/><stop offset="0.812" stop-color="rgb(19,19,19)"/><stop offset="0.875" stop-color="rgb(16,16,16)"/><stop offset="0.938" stop-color="rgb(14,14,14)"/><stop offset="1.000" stop-color="rgb(13,13,13)"/></radialGradient>
<radialGradient id="g43"><stop offset="0.000" stop-color="rgb(255,255,255)"/><stop offset="0.062" stop-color="rgb(255,255,255)"/><stop offset="0.125" stop-color="rgb(255,255,255)"/><stop offset="0.188" stop-color="rgb(229,229,229)"/><stop offset="0.250" stop-color="rgb(188,188,188)"/><stop offset="0.312" stop-color="rgb(147,147,147)"/><stop offset="0.375" stop-color="rgb(110,110,110)"/><stop offset="0.438" stop-color="rgb(79,79,79)"/><stop offset="0.500" stop-color="rgb(56,56,56)"/><stop offset="0.562" stop-color="rgb(40,40,40)"/><stop offset="0.625" stop-color="rgb(29,29,29)"/><stop offset="0.688" stop-color="rgb(22,22,22)"/><stop offset="0.750" stop-color="rgb(18,18,18)"/><stop offset="0.812" stop-color="rgb(16,16,16)"/><stop offset="0.875" stop-color="rgb(14,14,14)"/><stop offset="0.938" stop-color="rgb(13,13,13)"/><stop offset="1.000" stop-color="rgb(13,13,13)"/></radialGradient>
<radialGradient id="g44"><stop offset="0.000" stop-color="rgb(255,255,255)"/><stop offset="0.062" stop-color="rgb(255,255,255)"/><stop offset="0.125" stop-color="rgb(255,255,255)"/><stop offset="0.188" stop-color="rgb(255,255,255)"/><stop offset="0.250" stop-color="rgb(255,255,255)"/><stop offset="0.312" stop-color="rgb(248,248,248)"/><stop offset="0.375" stop-color="rgb(183,183,183)"/><stop offset="0.438" stop-color="rgb(130,130,130)"/><stop offset="0.500" stop-color="rgb(89,89,89)"/><stop offset="0.562" stop-color="rgb(61,61,61)"/><stop offset="0.625" stop-color="rgb(42,42,42)"/><stop offset="0.688" stop-color="rgb(30,30,30)"/><stop offset="0.750" stop-color="rgb(22,22,22)"/><stop offset="0.812" stop-color="rgb(18,18,18)"/><stop offset="0.875" stop-color="rgb(16,16,16)"/><stop offset="0.938" stop-color="rgb(14,14,14)"/><stop offset="1.000" stop-color="rgb(13,13,13)"/></radialGradient>
<radialGradient id="g45"><stop offset="0.000" stop-color="rgb(15,15,15)"/><stop offset="0.062" stop-color="rgb(15,15,15)"/><stop offset="0.125" stop-color="rgb(15,15,15)"/><stop offset="0.188" stop-color="rgb(15,15,15)"/><stop offset="0.250" stop-color="rgb(14,14,14)"/><stop offset="0.312" stop-color="rgb(14,14,14)"/><stop offset="0.375" stop-color="rgb(14,14,14)"/><stop offset="0.438" stop-color="rgb(13,13,13)"/><stop offset="0.500" stop-color="rgb(13,13,13)"/><stop offset="0.562" stop-color="rgb(13,13,13)"/><stop offset="0.625" stop-color="rgb(13,13,13)"/><stop offset="0.688" stop-color="rgb(13,13,13)"/><stop offset="0.750" stop-color="rgb(13,13,13)"/><stop offset="0.812" stop-color="rgb(13,13,13)"/><stop offset="0.875" stop-color="rgb(13,13,13)"/><stop offset="0.938" stop-color="rgb(13,13,13)"/><stop offset="1.000" stop-color="rgb(13,13,13)"/></radialGradient>
<radialGradient id="g46"><stop offset="0.000" stop-color="rgb(34,34,34)"/><stop offset="0.062" stop-color="rgb(34,34,34)"/><stop offset="0.125" stop-color="rgb(32,32,32)"/><stop offset="0.188" stop-color="rgb(29,29,29)"/><stop offset="0.250" stop-color="rgb(26,26,26)"/><stop offset="0.312" stop-color="rgb(23,23,23)"/><stop offset="0.375" stop-color="rgb(20,20,20)"/><stop offset="0.438" stop-color="rgb(18,18,18)"/><stop offset="0.500" stop-color="rgb(16,16,16)"/><stop offset="0.562" stop-color="rgb(15,15,15)"/><stop offset="0.625" stop-color="rgb(14,14,14)"/><stop offset="0.688" stop-color="rgb(13,13,13)"/><stop offset="0.750" stop-color="rgb(13,13,13)"/><stop offset="0.812" stop-color="rgb(13,13,13)"/><stop offset="0.875" stop-color="rgb(13,13,13)"/><stop offset="0.938" stop-color="rgb(13,13,13)"/><stop offset="1.000" stop-color="rgb(13,13,13)"/></radialGradient>
<radialGradient id="g47"><stop offset="0.000" stop-color="rgb(58,58,58)"/><stop offset="0.062" stop-color="rgb(57,57,57)"/><stop offset="0.125" stop-color="rgb(53,53,53)"/><stop offset="0.188" stop-color="rgb(48,48,48)"/><stop offset="0.250" stop-color="rgb(41,41,41)"/><stop offset="0.312" stop-color="rgb(34,34,34)"/><stop offset="0.375" stop-color="rgb(28,28,28)"/><stop offset="0.438" stop-color="rgb(24,24,24)"/><stop offset="0.500" stop-color="rgb(20,20,20)"/><stop offset="0.562" stop-color="rgb(17,17,17)"/><stop offset="0.625" stop-color="rgb(15,15,15)"/><stop offset="0.688" stop-color="rgb(14,14,14)"/><stop offset="0.750" stop-color="rgb(14,14,14)"/><stop offset="0.812" stop-color="rgb(13,13,13)"/><stop offset="0.875" stop-color="rgb(13,13,13)"/><stop offset="0.938" stop-color="rgb(13,13,13)"/><stop offset="1.000" stop-color="rgb(13,13,13)"/></radialGradient>
<radialGradient id="g48"><stop offset="0.000" stop-color="rgb(161,161,161)"/><stop offset="0.062" stop-color="rgb(156,156,156)"/><stop offset="0.125" stop-color="rgb(144,144,144)"/><stop offset="0.188" stop-color="rgb(126,126,126)"/><stop offset="0.250" stop-color="rgb(104,104,104)"/><stop offset="0.312" stop-color="rgb(83,83,83)"/><stop offset="0.375" stop-color="rgb(63,63,63)"/><stop offset="0.438" stop-color="rgb(48,48,48)"/><stop offset="0.500" stop-color="rgb(36,36,36)"/><stop offset="0.562" stop-color="rgb(27,27,27)"/><stop offset="0.625" stop-color="rgb(21,21,21)"/><stop offset="0.688" stop-color="rgb(18,18,18)"/><stop offset="0.750" stop-color="rgb(16,16,16)"/><stop offset="0.812" stop-color="rgb(14,14,14)"/><stop offset="0.875" stop-color="rgb(14,14,14)"/><stop offset="0.938" stop-color="rgb(13,13,13)"/><stop offset="1.000" stop-color="rgb(13,13,13)"/></radialGradient>
<radialGradient id="g49"><stop offset="0.000" stop-color="rgb(255,255,255)"/><stop offset="0.062" stop-color="rgb(255,255,255)"/><stop offset="0.125" stop-color="rgb(255,255,255)"/><stop offset="0.188" stop-color="rgb(246,246,246)"/><stop offset="0.250" stop-color="rgb(202,202,202)"/><stop offset="0.312" stop-color="rgb(157,157,157)"/><stop offset="0.375" stop-color="rgb(118,118,118)"/><stop offset="0.438" stop-color="rgb(85,85,85)"/><stop offset="0.500" stop-color="rgb(60,60,60)"/><stop offset="0.562" stop-color="rgb(42,42,42)"/><stop offset="0.625" stop-color="rgb(31,31,31)"/><stop offset="0.688" stop-color="rgb(23,23,23)"/><stop offset="0.750" stop-color="rgb(19,19,19)"/><stop offset="0.812" stop-color="rgb(16,16,16)"/><stop offset="0.875" stop-color="rgb(14,14,14)"/><stop offset="0.938" stop-color="rgb(13,13,13)"/><stop offset="1.000" stop-color="rgb(13,13,13)"/></radialGradient>
<radialGradient id="g50"><stop offset="0.000" stop-color="rgb(255,255,255)"/><stop offset="0.062" stop-color="rgb(255,255,255)"/><stop offset="0.125" stop-color="rgb(255,255,255)"/><stop offset="0.188" stop-color="rgb(255,255,255)"/><stop offset="0.250" stop-color="rgb(255,255,255)"/><stop offset="0.312" stop-color="rgb(255,255,255)"/><stop offset="0.375" stop-color="rgb(222,222,222)"/><stop offset="0.438" stop-color="rgb(156,156,156)"/><stop offset="0.500" stop-color="rgb(107,107,107)"/><stop offset="0.562" stop-color="rgb(72,72,72)"/><stop offset="0.625" stop-color="rgb(48,48,48)"/><stop offset="0.688" stop-color="rgb(34,34,34)"/><stop offset="0.750" stop-color="rgb(25,25,25)"/><stop offset="0.812" stop-color="rgb(19,19,19)"/><stop offset="0.875" stop-color="rgb(16,16,16)"/><stop offset="0.938" stop-color="rgb(14,14,14)"/><stop offset="1.000" stop-color="rgb(13,13,13)"/></radialGradient>
<radialGradient id="g51"><stop offset="0.000" stop-color="rgb(255,255,255)"/><stop offset="0.062" stop-color="rgb(255,255,255)"/><stop offset="0.125" stop-color="rgb(255,255,255)"/><stop offset="0.188" stop-color="rgb(255,255,255)"/><stop offset="0.250" stop-color="rgb(255,255,255)"/><stop offset="0.312" stop-color="rgb(255,255,255)"/><stop offset="0.375" stop-color="rgb(241,241,241)"/><stop offset="0.438" stop-color="rgb(170,170,170)"/><stop offset="0.500" stop-color="rgb(115,115,115)"/><stop offset="0.562" stop-color="rgb(77,77,77)"/><stop offset="0.625" stop-color="rgb(52,52,52)"/><stop offset="0.688" stop-color="rgb(36,36,36)"/><stop offset="0.750" stop-color="rgb(26,26,26)"/><stop offset="0.812" stop-color="rgb(20,20,20)"/><stop offset="0.875" stop-color="rgb(16,16,16)"/><stop offset="0.938" stop-color="rgb(14,14,14)"/><stop offset="1.000" stop-color="rgb(13,13,13)"/></radialGradient>
<radialGradient id="g52"><stop offset="0.000" stop-color="rgb(255,255,255)"/><stop offset="0.062" stop-color="rgb(255,255,255)"/><stop offset="0.125" stop-color="rgb(255,255,255)"/><stop offset="0.188" stop-color="rgb(255,255,255)"/><stop offset="0.250" stop-color="rgb(255,255,255)"/><stop offset="0.312" stop-color="rgb(255,255,255)"/><stop offset="0.375" stop-color="rgb(210,210,210)"/><stop offset="0.438" stop-color="rgb(148,148,148)"/><stop offset="0.500" stop-color="rgb(101,101,101)"/><stop offset="0.562" stop-color="rgb(68,68,68)"/><stop offset="0.625" stop-color="rgb(46,46,46)"/><stop offset="0.688" stop-color="rgb(32,32,32)"/><stop offset="0.750" stop-color="rgb(24,24,24)"/><stop offset="0.812" stop-color="rgb(19,19,19)"/><stop offset="0.875" stop-color="rgb(16,16,16)"/><stop offset="0.938" stop-color="rgb(14,14,14)"/><stop offset="1.000" stop-color="rgb(13,13,13)"/></radialGradient>
<radialGradient id="g53"><stop offset="0.000" stop-color="rgb(255,255,255)"/><stop offset="0.062" stop-color="rgb(255,255,255)"/><stop offset="0.125" stop-color="rgb(255,255,255)"/><stop offset="0.188" stop-color="rgb(255,255,255)"/><stop offset="0.250" stop-color="rgb(255,255,255)"/><stop offset="0.312" stop-color="rgb(211,211,211)"/><stop offset="0.375" stop-color="rgb(156,156,156)"/><stop offset="0.438" stop-color="rgb(111,111,111)"/><stop offset="0.500" stop-color="rgb(77,77,77)"/><stop offset="0.562" stop-color="rgb(53,53,53)"/><stop offset="0.625" stop-color="rgb(37,37,37)"/><stop offset="0.688" stop-color="rgb(27,27,27)"/><stop offset="0.750" stop-color="rgb(21,21,21)"/><stop offset="0.812" stop-color="rgb(17,17,17)"/><stop offset="0.875" stop-color="rgb(15,15,15)"/><stop offset="0.938" stop-color="rgb(14,14,14)"/><stop offset="1.000" stop-color="rgb(13,13,13)"/></radialGradient>
<radialGradient id="g54"><stop offset="0.000" stop-color="rgb(193,193,193)"/><stop offset="0.062" stop-color="rgb(187,187,187)"/><stop offset="0.125" stop-color="rgb(173,173,173)"/><stop offset="0.188" stop-color="rgb(151,151,151)"/><stop offset="0.250" stop-color="rgb(126,126,126)"/><stop offset="0.312" stop-color="rgb(100,100,100)"/><stop offset="0.375" stop-color="rgb(77,77,77)"/><stop offset="0.438" stop-color="rgb(58,58,58)"/><stop offset="0.500" stop-color="rgb(44,44,44)"/><stop offset="0.562" stop-color="rgb(34,34,34)"/><stop offset="0.625" stop-color="rgb(27,27,27)"/><stop offset="0.688" stop-color="rgb(23,23,23)"/><stop offset="0.750" stop-color="rgb(20,20,20)"/><stop offset="0.812" stop-color="rgb(18,18,18)"/><stop offset="0.875" stop-color="rgb(18,18,18)"/><stop offset="0.938" stop-color="rgb(17,17,17)"/><stop offset="1.000" stop-color="rgb(17,17,17)"/></radialGradient>
<radialGradient id="g55"><stop offset="0.000" stop-color="rgb(182,182,182)"/><stop offset="0.062" stop-color="rgb(177,177,177)"/><stop offset="0.125" stop-color="rgb(163,163,163)"/><stop offset="0.188" stop-color="rgb(143,143,143)"/><stop offset="0.250" stop-color="rgb(119,119,119)"/><stop offset="0.312" stop-color="rgb(95,95,95)"/><stop offset="0.375" stop-color="rgb(73,73,73)"/><stop offset="0.438" stop-color="rgb(56,56,56)"/><stop offset="0.500" stop-color="rgb(42,42,42)"/><stop offset="0.562" stop-color="rgb(33,33,33)"/><stop offset="0.625" stop-color="rgb(26,26,26)"/><stop offset="0.688" stop-color="rgb(22,22,22)"/><stop offset="0.750" stop-color="rgb(20,20,20)"/><stop offset="0.812" stop-color="rgb(18,18,18)"/><stop offset="0.875" stop-color="rgb(17,17,17)"/><stop offset="0.938" stop-color="rgb(17,17,17)"/><stop offset="1.000" stop-color="rgb(17,17,17)"/></radialGradient>
<radialGradient id="g56"><stop offset="0.000" stop-color="rgb(112,112,112)"/><stop offset="0.062" stop-color="rgb(109,109,109)"/><stop offset="0.125" stop-color="rgb(101,101,101)"/><stop offset="0.188" stop-color="rgb(89,89,89)"/><stop offset="0.250" stop-color="rgb(76,76,76)"/><stop offset="0.312" stop-color="rgb(62,62,62)"/><stop offset="0.375" stop-color="rgb(49,49,49)"/><stop offset="0.438" stop-color="rgb(39,39,39)"/><stop offset="0.500" stop-color="rgb(31,31,31)"/><stop offset="0.562" stop-color="rgb(26,26,26)"/><stop offset="0.625" stop-color="rgb(22,22,22)"/><stop offset="0.688" stop-color="rgb(20,20,20)"/><stop offset="0.750" stop-color="rgb(18,18,18)"/><stop offset="0.812" stop-color="rgb(18,18,18)"/><stop offset="0.875" stop-color="rgb(17,17,17)"/><stop offset="0.938" stop-color="rgb(17,17,17)"/><stop offset="1.000" stop-color="rgb(17,17,17)"/></radialGradient>
<radialGradient id="g57"><stop offset="0.000" stop-color="rgb(45,45,45)"/><stop offset="0.062" stop-color="rgb(44,44,44)"/><stop offset="0.125" stop-color="rgb(42,42,42)"/><stop offset="0.188" stop-color="rgb(38,38,38)"/><stop offset="0.250" stop-color="rgb(34,34,34)"/><stop offset="0.312" stop-color="rgb(30,30,30)"/><stop offset="0.375" stop-color="rgb(26,26,26)"/><stop offset="0.438" stop-color="rgb(23,23,23)"/><stop offset="0.500" stop-color="rgb(21,21,21)"/><stop offset="0.562" stop-color="rgb(19,19,19)"/><stop offset="0.625" stop-color="rgb(18,18,18)"/><stop offset="0.688" stop-color="rgb(18,18,18)"/><stop offset="0.750" stop-color="rgb(17,17,17)"/><stop offset="0.812" stop-color="rgb(17,17,17)"/><stop offset="0.875" stop-color="rgb(17,17,17)"/><stop offset="0.938" stop-color="rgb(17,17,17)"/><stop offset="1.000" stop-color="rgb(17,17,17)"/></radialGradient>
<radialGradient id="g58"><stop offset="0.000" stop-color="rgb(31,31,31)"/><stop offset="0.062" stop-color="rgb(31,31,31)"/><stop offset="0.125" stop-color="rgb(30,30,30)"/><stop offset="0.188" stop-color="rgb(28,28,28)"/><stop offset="0.250" stop-color="rgb(26,26,26)"/><stop offset="0.312" stop-color="rgb(24,24,24)"/><stop offset="0.375" stop-color="rgb(22,22,22)"/><stop offset="0.438" stop-color="rgb(20,20,20)"/><stop offset="0.500" stop-color="rgb(19,19,19)"/><stop offset="0.562" stop-color="rgb(18,18,18)"/><stop offset="0.625" stop-color="rgb(17,17,17)"/><stop offset="0.688" stop-color="rgb(17,17,17)"/><stop offset="0.750" stop-color="rgb(17,17,17)"/><stop offset="0.812" stop-color="rgb(17,17,17)"/><stop offset="0.875" stop-color="rgb(17,17,17)"/><stop offset="0.938" stop-color="rgb(17,17,17)"/><stop offset="1.000" stop-color="rgb(17,17,17)"/></radialGradient>
<radialGradient id="g59"><stop offset="0.000" stop-color="rgb(24,24,24)"/><stop offset="0.062" stop-color="rgb(24,24,24)"/><stop offset="0.125" stop-color="rgb(23,23,23)"/><stop offset="0.188" stop-color="rgb(22,22,22)"/><stop offset="0.250" stop-color="rgb(21,21,21)"/><stop offset="0.312" stop-color="rgb(20,20,20)"/><stop offset="0.375" stop-color="rgb(19,19,19)"/><stop offset="0.438" stop-color="rgb(18,18,18)"/><stop offset="0.500" stop-color="rgb(18,18,18)"/><stop offset="0.562" stop-color="rgb(17,17,17)"/><stop offset="0.625" stop-color="rgb(17,17,17)"/><stop offset="0.688" stop-color="rgb(17,17,17)"/><stop offset="0.750" stop-color="rgb(17,17,17)"/><stop offset="0.812" stop-color="rgb(17,17,17)"/><stop offset="0.875" stop-color="rgb(17,17,17)"/><stop offset="0.938" stop-color="rgb(17,17,17)"/><stop offset="1.000" stop-color="rgb(17,17,17)"/></radialGradient>
<radialGradient id="g60"><stop offset="0.000" stop-color="rgb(69,69,69)"/><stop offset="0.062" stop-color="rgb(67,67,67)"/><stop offset="0.125" stop-color="rgb(63,63,63)"/><stop offset="0.188" stop-color="rgb(57,57,57)"/><stop offset="0.250" stop-color="rgb(49,49,49)"/><stop offset="0.312" stop-color="rgb(41,41,41)"/><stop offset="0.375" stop-color="rgb(35,35,35)"/><stop offset="0.438" stop-color="rgb(29,29,29)"/><stop offset="0.500" stop-color="rgb(25,25,25)"/><stop offset="0.562" stop-color="rgb(22,22,22)"/><stop offset="0.625" stop-color="rgb(20,20,20)"/><stop offset="0.688" stop-color="rgb(18,18,18)"/><stop offset="0.750" stop-color="rgb(18,18,18)"/><stop offset="0.812" stop-color="rgb(17,17,17)"/><stop offset="0.875" stop-color="rgb(17,17,17)"/><stop offset="0.938" stop-color="rgb(17,17,17)"/><stop offset="1.000" stop-color="rgb(17,17,17)"/></radialGradient>
<radialGradient id="g61"><stop offset="0.000" stop-color="rgb(29,29,29)"/><stop offset="0.062" stop-color="rgb(28,28,28)"/><stop offset="0.125" stop-color="rgb(27,27,27)"/><stop offset="0.188" stop-color="rgb(26,26,26)"/><stop offset="0.250" stop-color="rgb(24,24,24)"/><stop offset="0.312" stop-color="rgb(22,22,22)"/><stop offset="0.375" stop-color="rgb(21,21,21)"/><stop offset="0.438" stop-color="rgb(19,19,19)"/><stop offset="0.500" stop-color="rgb(18,18,18)"/><stop offset="0.562" stop-color="rgb(18,18,18)"/><stop offset="0.625" stop-color="rgb(17,17,17)"/><stop offset="0.688" stop-color="rgb(17,17,17)"/><stop offset="0.750" stop-color="rgb(17,17,17)"/><stop offset="0.812" stop-color="rgb(17,17,17)"/><stop offset="0.875" stop-color="rgb(17,17,17)"/><stop offset="0.938" stop-color="rgb(17,17,17)"/><stop offset="1.000" stop-color="rgb(17,17,17)"/></radialGradient>
<radialGradient id="g62"><stop offset="0.000" stop-color="rgb(177,177,177)"/><stop offset="0.062" stop-color="rgb(172,172,172)"/><stop offset="0.125" stop-color="rgb(158,158,158)"/><stop offset="0.188" stop-color="rgb(139,139,139)"/><stop offset="0.250" stop-color="rgb(116,116,116)"/><stop offset="0.312" stop-color="rgb(92,92,92)"/><stop offset="0.375" stop-color="rgb(71,71,71)"/><stop offset="0.438" stop-color="rgb(54,54,54)"/><stop offset="0.500" stop-color="rgb(41,41,41)"/><stop offset="0.562" stop-color="rgb(32,32,32)"/><stop offset="0.625" stop-color="rgb(26,26,26)"/><stop offset="0.688" stop-color="rgb(22,22,22)"/><stop offset="0.750" stop-color="rgb(20,20,20)"/><stop offset="0.812" stop-color="rgb(18,18,18)"/><stop offset="0.875" stop-color="rgb(17,17,17)"/><stop offset="0.938" stop-color="rgb(17,17,17)"/><stop offset="1.000" stop-color="rgb(17,17,17)"/></radialGradient>
<radialGradient id="g63"><stop offset="0.000" stop-color="rgb(187,187,187)"/><stop offset="0.062" stop-color="rgb(182,182,182)"/><stop offset="0.125" stop-color="rgb(168,168,168)"/><stop offset="0.188" stop-color="rgb(147,147,147)"/><stop offset="0.250" stop-color="rgb(122,122,122)"/><stop offset="0.312" stop-color="rgb(97,97,97)"/><stop offset="0.375" stop-color="rgb(75,75,75)"/><stop offset="0.438" stop-color="rgb(57,57,57)"/><stop offset="0.500" stop-color="rgb(43,43,43)"/><stop offset="0.562" stop-color="rgb(33,33,33)"/><stop offset="0.625" stop-color="rgb(27,27,27)"/><stop offset="0.688" stop-color="rgb(22,22,22)"/><stop offset="0.750" stop-color="rgb(20,20,20)"/><stop offset="0.812" stop-color="rgb(18,18,18)"/><stop offset="0.875" stop-color="rgb(18,18,18)"/><stop offset="0.938" stop-color="rgb(17,17,17)"/><stop offset="1.000" stop-color="rgb(17,17,17)"/></radialGradient>
<radialGradient id="g64"><stop offset="0.000" stop-color="rgb(160,160,160)"/><stop offset="0.062" stop-color="rgb(156,156,156)"/><stop offset="0.125" stop-color="rgb(144,144,144)"/><stop offset="0.188" stop-color="rgb(126,126,126)"/><stop offset="0.250" stop-color="rgb(106,106,106)"/><stop offset="0.312" stop-color="rgb(85,85,85)"/><stop offset="0.375" stop-color="rgb(66,66,66)"/><stop offset="0.438" stop-color="rgb(50,50,50)"/><stop offset="0.500" stop-color="rgb(39,39,39)"/><stop offset="0.562" stop-color="rgb(30,30,30)"/><stop offset="0.625" stop-color="rgb(25,25,25)"/><stop offset="0.688" stop-color="rgb(21,21,21)"/><stop offset="0.750" stop-color="rgb(19,19,19)"/><stop offset="0.812" stop-color="rgb(18,18,18)"/><stop offset="0.875" stop-color="rgb(17,17,17)"/><stop offset="0.938" stop-color="rgb(17,17,17)"/><stop offset="1.000" stop-color="rgb(17,17,17)"/></radialGradient>
<radialGradient id="g65"><stop offset="0.000" stop-color="rgb(125,125,125)"/><stop offset="0.062" stop-color="rgb(122,122,122)"/><stop offset="0.125" stop-color="rgb(113,113,113)"/><stop offset="0.188" stop-color="rgb(100,100,100)"/><stop offset="0.250" stop-color="rgb(84,84,84)"/><stop offset="0.312" stop-color="rgb(68,68,68)"/><stop offset="0.375" stop-color="rgb(54,54,54)"/><stop offset="0.438" stop-color="rgb(42,42,42)"/><stop offset="0.500" stop-color="rgb(33,33,33)"/><stop offset="0.562" stop-color="rgb(27,27,27)"/><stop offset="0.625" stop-color="rgb(23,23,23)"/><stop offset="0.688" stop-color="rgb(20,20,20)"/><stop offset="0.750" stop-color="rgb(19,19,19)"/><stop offset="0.812" stop-color="rgb(18,18,18)"/><stop offset="0.875" stop-color="rgb(17,17,17)"/><stop offset="0.938" stop-color="rgb(17,17,17)"/><stop offset="1.000" stop-color="rgb(17,17,17)"/></radialGradient>
<radialGradient id="g66"><stop offset="0.000" stop-color="rgb(74,74,74)"/><stop offset="0.062" stop-color="rgb(73,73,73)"/><stop offset="0.125" stop-color="rgb(68,68,68)"/><stop offset="0.188" stop-color="rgb(61,61,61)"/><stop offset="0.250" stop-color="rgb(52,52,52)"/><stop offset="0.312" stop-color="rgb(44,44,44)"/><stop offset="0.375" stop-color="rgb(36,36,36)"/><stop offset="0.438" stop-color="rgb(30,30,30)"/><stop offset="0.500" stop-color="rgb(25,25,25)"/><stop offset="0.562" stop-color="rgb(22,22,22)"/><stop offset="0.625" stop-color="rgb(20,20,20)"/><stop offset="0.688" stop-color="rgb(19,19,19)"/><stop offset="0.750" stop-color="rgb(18,18,18)"/><stop offset="0.812" stop-color="rgb(17,17,17)"/><stop offset="0.875" stop-color="rgb(17,17,17)"/><stop offset="0.938" stop-color="rgb(17,17,17)"/><stop offset="1.000" stop-color="rgb(17,17,17)"/></radialGradient>
<radialGradient id="g67"><stop offset="0.000" stop-color="rgb(38,38,38)"/><stop offset="0.062" stop-color="rgb(37,37,37)"/><stop offset="0.125" stop-color="rgb(36,36,36)"/><stop offset="0.188" stop-color="rgb(33,33,33)"/><stop offset="0.250" stop-color="rgb(30,30,30)"/><stop offset="0.312" stop-color="rgb(27,27,27)"/><stop offset="0.375" stop-color="rgb(24,24,24)"/><stop offset="0.438" stop-color="rgb(22,22,22)"/><stop offset="0.500" stop-color="rgb(20,20,20)"/><stop offset="0.562" stop-color="rgb(19,19,19)"/><stop offset="0.625" stop-color="rgb(18,18,18)"/><stop offset="0.688" stop-color="rgb(17,17,17)"/><stop offset="0.750" stop-color="rgb(17,17,17)"/><stop offset="0.812" stop-color="rgb(17,17,17)"/><stop offset="0.875" stop-color="rgb(17,17,17)"/><stop offset="0.938" stop-color="rgb(17,17,17)"/><stop offset="1.000" stop-color="rgb(17,17,17)"/></radialGradient>
<radialGradient id="g68"><stop offset="0.000" stop-color="rgb(23,23,23)"/><stop offset="0.062" stop-color="rgb(23,23,23)"/><stop offset="0.125" stop-color="rgb(23,23,23)"/><stop offset="0.188" stop-color="rgb(22,22,22)"/><stop offset="0.250" stop-color="rgb(21,21,21)"/><stop offset="0.312" stop-color="rgb(20,20,20)"/><stop offset="0.375" stop-color="rgb(19,19,19)"/><stop offset="0.438" stop-color="rgb(18,18,18)"/><stop offset="0.500" stop-color="rgb(18,18,18)"/><stop offset="0.562" stop-color="rgb(17,17,17)"/><stop offset="0.625" stop-color="rgb(17,17,17)"/><stop offset="0.688" stop-color="rgb(17,17,17)"/><stop offset="0.750" stop-color="rgb(17,17,17)"/><stop offset="0.812" stop-color="rgb(17,17,17)"/><stop offset="0.875" stop-color="rgb(17,17,17)"/><stop offset="0.938" stop-color="rgb(17,17,17)"/><stop offset="1.000" stop-color="rgb(17,17,17)"/></radialGradient>
<radialGradient id="g69"><stop offset="0.000" stop-color="rgb(84,84,84)"/><stop offset="0.062" stop-color="rgb(82,82,82)"/><stop offset="0.125" stop-color="rgb(76,76,76)"/><stop offset="0.188" stop-color="rgb(68,68,68)"/><stop offset="0.250" stop-color="rgb(58,58,58)"/><stop offset="0.312" stop-color="rgb(48,48,48)"/><stop offset="0.375" stop-color="rgb(40,40,40)"/><stop offset="0.438" stop-color="rgb(32,32,32)"/><stop offset="0.500" stop-color="rgb(27,27,27)"/><stop offset="0.562" stop-color="rgb(23,23,23)"/><stop offset="0.625" stop-color="rgb(20,20,20)"/><stop offset="0.688" stop-color="rgb(19,19,19)"/><stop offset="0.750" stop-color="rgb(18,18,18)"/><stop offset="0.812" stop-color="rgb(17,17,17)"/><stop offset="0.875" stop-color="rgb(17,17,17)"/><stop offset="0.938" stop-color="rgb(17,17,17)"/><stop offset="1.000" stop-color="rgb(17,17,17)"/></radialGradient>
<radialGradient id="g70"><stop offset="0.000" stop-color="rgb(88,88,88)"/><stop offset="0.062" stop-color="rgb(86,86,86)"/><stop offset="0.125" stop-color="rgb(80,80,80)"/><stop offset="0.188" stop-color="rgb(71,71,71)"/><stop offset="0.250" stop-color="rgb(61,61,61)"/><stop offset="0.312" stop-color="rgb(51,51,51)"/><stop offset="0.375" stop-color="rgb(41,41,41)"/><stop offset="0.438" stop-color="rgb(33,33,33)"/><stop offset="0.500" stop-color="rgb(28,28,28)"/><stop offset="0.562" stop-color="rgb(23,23,23)"/><stop offset="0.625" stop-color="rgb(21,21,21)"/><stop offset="0.688" stop-color="rgb(19,19,19)"/><stop offset="0.750" stop-color="rgb(18,18,18)"/><stop offset="0.812" stop-color="rgb(17,17,17)"/><stop offset="0.875" stop-color="rgb(17,17,17)"/><stop offset="0.938" stop-color="rgb(17,17,17)"/><stop offset="1.000" stop-color="rgb(17,17,17)"/></radialGradient>
<radialGradient id="g71"><stop offset="0.000" stop-color="rgb(77,77,77)"/><stop offset="0.062" stop-color="rgb(75,75,75)"/><stop offset="0.125" stop-color="rgb(70,70,70)"/><stop offset="0.188" stop-color="rgb(63,63,63)"/><stop offset="0.250" stop-color="rgb(54,54,54)"/><stop offset="0.312" stop-color="rgb(45,45,45)"/><stop offset="0.375" stop-color="rgb(37,37,37)"/><stop offset="0.438" stop-color="rgb(31,31,31)"/><stop offset="0.500" stop-color="rgb(26,26,26)"/><stop offset="0.562" stop-color="rgb(22,22,22)"/><stop offset="0.625" stop-color="rgb(20,20,20)"/><stop offset="0.688" stop-color="rgb(19,19,19)"/><stop offset="0.750" stop-color="rgb(18,18,18)"/><stop offset="0.812" stop-color="rgb(17,17,17)"/><stop offset="0.875" stop-color="rgb(17,17,17)"/><stop offset="0.938" stop-color="rgb(17,17,17)"/><stop offset="1.000" stop-color="rgb(17,17,17)"/></radialGradient>
<radialGradient id="g72"><stop offset="0.000" stop-color="rgb(62,62,62)"/><stop offset="0.062" stop-color="rgb(61,61,61)"/><stop offset="0.125" stop-color="rgb(57,57,57)"/><stop offset="0.188" stop-color="rgb(51,51,51)"/><stop offset="0.250" stop-color="rgb(45,45,45)"/><stop offset="0.312" stop-color="rgb(38,38,38)"/><stop offset="0.375" stop-color="rgb(32,32,32)"/><stop offset="0.438" stop-color="rgb(27,27,27)"/><stop offset="0.500" stop-color="rgb(24,24,24)"/><stop offset="0.562" stop-color="rgb(21,21,21)"/><stop offset="0.625" stop-color="rgb(19,19,19)"/><stop offset="0.688" stop-color="rgb(18,18,18)"/><stop offset="0.750" stop-color="rgb(17,17,17)"/><stop offset="0.812" stop-color="rgb(17,17,17)"/><stop offset="0.875" stop-color="rgb(17,17,17)"/><stop offset="0.938" stop-color="rgb(17,17,17)"/><stop offset="1.000" stop-color="rgb(17,17,17)"/></radialGradient>
<radialGradient id="g73"><stop offset="0.000" stop-color="rgb(41,41,41)"/><stop offset="0.062" stop-color="rgb(40,40,40)"/><stop offset="0.125" stop-color="rgb(38,38,38)"/><stop offset="0.188" stop-color="rgb(35,35,35)"/><stop offset="0.250" stop-color="rgb(32,32,32)"/><stop offset="0.312" stop-color="rgb(28,28,28)"/><stop offset="0.375" stop-color="rgb(25,25,25)"/><stop offset="0.438" stop-color="rgb(22,22,22)"/><stop offset="0.500" stop-color="rgb(20,20,20)"/><stop offset="0.562" stop-color="rgb(19,19,19)"/><stop offset="0.625" stop-color="rgb(18,18,18)"/><stop offset="0.688" stop-color="rgb(17,17,17)"/><stop offset="0.750" stop-color="rgb(17,17,17)"/><stop offset="0.812" stop-color="rgb(17,17,17)"/><stop offset="0.875" stop-color="rgb(17,17,17)"/><stop offset="0.938" stop-color="rgb(17,17,17)"/><stop offset="1.000" stop-color="rgb(17,17,17)"/></radialGradient>
<radialGradient id="g74"><stop offset="0.000" stop-color="rgb(32,32,32)"/><stop offset="0.062" stop-color="rgb(31,31,31)"/><stop offset="0.125" stop-color="rgb(30,30,30)"/><stop offset="0.188" stop-color="rgb(28,28,28)"/><stop offset="0.250" stop-color="rgb(26,26,26)"/><stop offset="0.312" stop-color="rgb(24,24,24)"/><stop offset="0.375" stop-color="rgb(22,22,22)"/><stop offset="0.438" stop-color="rgb(20,20,20)"/><stop offset="0.500" stop-color="rgb(19,19,19)"/><stop offset="0.562" stop-color="rgb(18,18,18)"/><stop offset="0.625" stop-color="rgb(17,17,17)"/><stop offset="0.688" stop-color="rgb(17,17,17)"/><stop offset="0.750" stop-color="rgb(17,17,17)"/><stop offset="0.812" stop-color="rgb(17,17,17)"/><stop offset="0.875" stop-color="rgb(17,17,17)"/><stop offset="0.938" stop-color="rgb(17,17,17)"/><stop offset="1.000" stop-color="rgb(17,17,17)"/></radialGradient>
<radialGradient id="g75"><stop offset="0.000" stop-color="rgb(26,26,26)"/><stop offset="0.062" stop-color="rgb(25,25,25)"/><stop offset="0.125" stop-color="rgb(25,25,25)"/><stop offset="0.188" stop-color="rgb(24,24,24)"/><stop offset="0.250" stop-color="rgb(22,22,22)"/><stop offset="0.312" stop-color="rgb(21,21,21)"/><stop offset="0.375" stop-color="rgb(20,20,20)"/><stop offset="0.438" stop-color="rgb(19,19,19)"/><stop offset="0.500" stop-color="rgb(18,18,18)"/><stop offset="0.562" stop-color="rgb(17,17,17)"/><stop offset="0.625" stop-color="rgb(17,17,17)"/><stop offset="0.688" stop-color="rgb(17,17,17)"/><stop offset="0.750" stop-color="rgb(17,17,17)"/><stop offset="0.812" stop-color="rgb(17,17,17)"/><stop offset="0.875" stop-color="rgb(17,17,17)"/><stop offset="0.938" stop-color="rgb(17,17,17)"/><stop offset="1.000" stop-color="rgb(17,17,17)"/></radialGradient>
<radialGradient id="g76"><stop offset="0.000" stop-color="rgb(59,59,59)"/><stop offset="0.062" stop-color="rgb(58,58,58)"/><stop offset="0.125" stop-color="rgb(54,54,54)"/><stop offset="0.188" stop-color="rgb(49,49,49)"/><stop offset="0.250" stop-color="rgb(43,43,43)"/><stop offset="0.312" stop-color="rgb(37,37,37)"/><stop offset="0.375" stop-color="rgb(31,31,31)"/><stop offset="0.438" stop-color="rgb(27,27,27)"/><stop offset="0.500" stop-color="rgb(23,23,23)"/><stop offset="0.562" stop-color="rgb(21,21,21)"/><stop offset="0.625" stop-color="rgb(19,19,19)"/><stop offset="0.688" stop-color="rgb(18,18,18)"/><stop offset="0.750" stop-color="rgb(17,17,17)"/><stop offset="0.812" stop-color="rgb(17,17,17)"/><stop offset="0.875" stop-color="rgb(17,17,17)"/><stop offset="0.938" stop-color="rgb(17,17,17)"/><stop offset="1.000" stop-color="rgb(17,17,17)"/></radialGradient>
<radialGradient id="g77"><stop offset="0.000" stop-color="rgb(37,37,37)"/><stop offset="0.062" stop-color="rgb(37,37,37)"/><stop offset="0.125" stop-color="rgb(35,35,35)"/><stop offset="0.188" stop-color="rgb(32,32,32)"/><stop offset="0.250" stop-color="rgb(29,29,29)"/><stop offset="0.312" stop-color="rgb(26,26,26)"/><stop offset="0.375" stop-color="rgb(24,24,24)"/><stop offset="0.438" stop-color="rgb(21,21,21)"/><stop offset="0.500" stop-color="rgb(20,20,20)"/><stop offset="0.562" stop-color="rgb(19,19,19)"/><stop offset="0.625" stop-color="rgb(18,18,18)"/><stop offset="0.688" stop-color="rgb(17,17,17)"/><stop offset="0.750" stop-color="rgb(17,17,17)"/><stop offset="0.812" stop-color="rgb(17,17,17)"/><stop offset="0.875" stop-color="rgb(17,17,17)"/><stop offset="0.938" stop-color="rgb(17,17,17)"/><stop offset="1.000" stop-color="rgb(17,17,17)"/></radialGradient>
<radialGradient id="g78"><stop offset="0.000" stop-color="rgb(30,30,30)"/><stop offset="0.062" stop-color="rgb(29,29,29)"/><stop offset="0.125" stop-color="rgb(28,28,28)"/><stop offset="0.188" stop-color="rgb(27,27,27)"/><stop offset="0.250" stop-color="rgb(25,25,25)"/><stop offset="0.312" stop-color="rgb(23,23,23)"/><stop offset="0.375" stop-color="rgb(21,21,21)"/><stop offset="0.438" stop-color="rgb(20,20,20)"/><stop offset="0.500" stop-color="rgb(19,19,19)"/><stop offset="0.562" stop-color="rgb(18,18,18)"/><stop offset="0.625" stop-color="rgb(17,17,17)"/><stop offset="0.688" stop-color="rgb(17,17,17)"/><stop offset="0.750" stop-color="rgb(17,17,17)"/><stop offset="0.812" stop-color="rgb(17,17,17)"/><stop offset="0.875" stop-color="rgb(17,17,17)"/><stop offset="0.938" stop-color="rgb(17,17,17)"/><stop offset="1.000" stop-color="rgb(17,17,17)"/></radialGradient>
<radialGradient id="g79"><stop offset="0.000" stop-color="rgb(87,87,87)"/><stop offset="0.062" stop-color="rgb(85,85,85)"/><stop offset="0.125" stop-color="rgb(79,79,79)"/><stop offset="0.188" stop-color="rgb(70,70,70)"/><stop offset="0.250" stop-color="rgb(60,60,60)"/><stop offset="0.312" stop-color="rgb(50,50,50)"/><stop offset="0.375" stop-color="rgb(41,41,41)"/><stop offset="0.438" stop-color="rgb(33,33,33)"/><stop offset="0.500" stop-color="rgb(27,27,27)"/><stop offset="0.562" stop-color="rgb(23,23,23)"/><stop offset="0.625" stop-color="rgb(21,21,21)"/><stop offset="0.688" stop-color="rgb(19,19,19)"/><stop offset="0.750" stop-color="rgb(18,18,18)"/><stop offset="0.812" stop-color="rgb(17,17,17)"/><stop offset="0.875" stop-color="rgb(17,17,17)"/><stop offset="0.938" stop-color="rgb(17,17,17)"/><stop offset="1.000" stop-color="rgb(17,17,17)"/></radialGradient>
<radialGradient id="g80"><stop offset="0.000" stop-color="rgb(83,83,83)"/><stop offset="0.062" stop-color="rgb(81,81,81)"/><stop offset="0.125" stop-color="rgb(75,75,75)"/><stop offset="0.188" stop-color="rgb(67,67,67)"/><stop offset="0.250" stop-color="rgb(58,58,58)"/><stop offset="0.312" stop-color="rgb(48,48,48)"/><stop offset="0.375" stop-color="rgb(39,39,39)"/><stop offset="0.438" stop-color="rgb(32,32,32)"/><stop offset="0.500" stop-color="rgb(27,27,27)"/><stop offset="0.562" stop-color="rgb(23,23,23)"/><stop offset="0.625" stop-color="rgb(20,20,20)"/><stop offset="0.688" stop-color="rgb(19,19,19)"/><stop offset="0.750" stop-color="rgb(18,18,18)"/><stop offset="0.812" stop-color="rgb(17,17,17)"/><stop offset="0.875" stop-color="rgb(17,17,17)"/><stop offset="0.938" stop-color="rgb(17,17,17)"/><stop offset="1.000" stop-color="rgb(17,17,17)"/></radialGradient>
<radialGradient id="g81"><stop offset="0.000" stop-color="rgb(63,63,63)"/><stop offset="0.062" stop-color="rgb(62,62,62)"/><stop offset="0.125" stop-color="rgb(58,58,58)"/><stop offset="0.188" stop-color="rgb(52,52,52)"/><stop offset="0.250" stop-color="rgb(46,46,46)"/><stop offset="0.312" stop-color="rgb(39,39,39)"/><stop offset="0.375" stop-color="rgb(33,33,33)"/><stop offset="0.438" stop-color="rgb(28,28,28)"/><stop offset="0.500" stop-color="rgb(24,24,24)"/><stop offset="0.562" stop-color="rgb(21,21,21)"/><stop offset="0.625" stop-color="rgb(19,19,19)"/><stop offset="0.688" stop-color="rgb(18,18,18)"/><stop offset="0.750" stop-color="rgb(17,17,17)"/><stop offset="0.812" stop-color="rgb(17,17,17)"/><stop offset="0.875" stop-color="rgb(17,17,17)"/><stop offset="0.938" stop-color="rgb(17,17,17)"/><stop offset="1.000" stop-color="rgb(17,17,17)"/></radialGradient>
<radialGradient id="g82"><stop offset="0.000" stop-color="rgb(55,55,55)"/><stop offset="0.062" stop-color="rgb(54,54,54)"/><stop offset="0.125" stop-color="rgb(50,50,50)"/><stop offset="0.188" stop-color="rgb(46,46,46)"/><stop offset="0.250" stop-color="rgb(40,40,40)"/><stop offset="0.312" stop-color="rgb(35,35,35)"/><stop offset="0.375" stop-color="rgb(30,30,30)"/><stop offset="0.438" stop-color="rgb(26,26,26)"/><stop offset="0.500" stop-color="rgb(22,22,22)"/><stop offset="0.562" stop-color="rgb(20,20,20)"/><stop offset="0.625" stop-color="rgb(19,19,19)"/><stop offset="0.688" stop-color="rgb(18,18,18)"/><stop offset="0.750" stop-color="rgb(17,17,17)"/><stop offset="0.812" stop-color="rgb(17,17,17)"/><stop offset="0.875" stop-color="rgb(17,17,17)"/><stop offset="0.938" stop-color="rgb(17,17,17)"/><stop offset="1.000" stop-color="rgb(17,17,17)"/></radialGradient>
<radialGradient id="g83"><stop offset="0.000" stop-color="rgb(36,36,36)"/><stop offset="0.062" stop-color="rgb(36,36,36)"/><stop offset="0.125" stop-color="rgb(34,34,34)"/><stop offset="0.188" stop-color="rgb(32,32,32)"/><stop offset="0.250" stop-color="rgb(29,29,29)"/><stop offset="0.312" stop-color="rgb(26,26,26)"/><stop offset="0.375" stop-color="rgb(23,23,23)"/><stop offset="0.438" stop-color="rgb(21,21,21)"/><stop offset="0.500" stop-color="rgb(20,20,20)"/><stop offset="0.562" stop-color="rgb(18,18,18)"/><stop offset="0.625" stop-color="rgb(18,18,18)"/><stop offset="0.688" stop-color="rgb(17,17,17)"/><stop offset="0.750" stop-color="rgb(17,17,17)"/><stop offset="0.812" stop-color="rgb(17,17,17)"/><stop offset="0.875" stop-color="rgb(17,17,17)"/><stop offset="0.938" stop-color="rgb(17,17,17)"/><stop offset="1.000" stop-color="rgb(17,17,17)"/></radialGradient>
<radialGradient id="g84"><stop offset="0.000" stop-color="rgb(28,28,28)"/><stop offset="0.062" stop-color="rgb(28,28,28)"/><stop offset="0.125" stop-color="rgb(27,27,27)"/><stop offset="0.188" stop-color="rgb(25,25,25)"/><stop offset="0.250" stop-color="rgb(24,24,24)"/><stop offset="0.312" stop-color="rgb(22,22,22)"/><stop offset="0.375" stop-color="rgb(20,20,20)"/><stop offset="0.438" stop-color="rgb(19,19,19)"/><stop offset="0.500" stop-color="rgb(18,18,18)"/><stop offset="0.562" stop-color="rgb(18,18,18)"/><stop offset="0.625" stop-color="rgb(17,17,17)"/><stop offset="0.688" stop-color="rgb(17,17,17)"/><stop offset="0.750" stop-color="rgb(17,17,17)"/><stop offset="0.812" stop-color="rgb(17,17,17)"/><stop offset="0.875" stop-color="rgb(17,17,17)"/><stop offset="0.938" stop-color="rgb(17,17,17)"/><stop offset="1.000" stop-color="rgb(17,17,17)"/></radialGradient>
<radialGradient id="g85"><stop offset="0.000" stop-color="rgb(49,49,49)"/><stop offset="0.062" stop-color="rgb(48,48,48)"/><stop offset="0.125" stop-color="rgb(45,45,45)"/><stop offset="0.188" stop-color="rgb(41,41,41)"/><stop offset="0.250" stop-color="rgb(37,37,37)"/><stop offset="0.312" stop-color="rgb(32,32,32)"/><stop offset="0.375" stop-color="rgb(28,28,28)"/><stop offset="0.438" stop-color="rgb(24,24,24)"/><stop offset="0.500" stop-color="rgb(22,22,22)"/><stop offset="0.562" stop-color="rgb(20,20,20)"/><stop offset="0.625" stop-color="rgb(18,18,18)"/><stop offset="0.688" stop-color="rgb(18,18,18)"/><stop offset="0.750" stop-color="rgb(17,17,17)"/><stop offset="0.812" stop-color="rgb(17,17,17)"/><stop offset="0.875" stop-color="rgb(17,17,17)"/><stop offset="0.938" stop-color="rgb(17,17,17)"/><stop offset="1.000" stop-color="rgb(17,17,17)"/></radialGradient>
<radialGradient id="g86"><stop offset="0.000" stop-color="rgb(35,35,35)"/><stop offset="0.062" stop-color="rgb(35,35,35)"/><stop offset="0.125" stop-color="rgb(33,33,33)"/><stop offset="0.188" stop-color="rgb(31,31,31)"/><stop offset="0.250" stop-color="rgb(28,28,28)"/><stop offset="0.312" stop-color="rgb(25,25,25)"/><stop offset="0.375" stop-color="rgb(23,23,23)"/><stop offset="0.438" stop-color="rgb(21,21,21)"/><stop offset="0.500" stop-color="rgb(19,19,19)"/><stop offset="0.562" stop-color="rgb(18,18,18)"/><stop offset="0.625" stop-color="rgb(18,18,18)"/><stop offset="0.688" stop-color="rgb(17,17,17)"/><stop offset="0.750" stop-color="rgb(17,17,17)"/><stop offset="0.812" stop-color="rgb(17,17,17)"/><stop offset="0.875" stop-color="rgb(17,17,17)"/><stop offset="0.938" stop-color="rgb(17,17,17)"/><stop offset="1.000" stop-color="rgb(17,17,17)"/></radialGradient>
<radialGradient id="g87"><stop offset="0.000" stop-color="rgb(27,27,27)"/><stop offset="0.062" stop-color="rgb(26,26,26)"/><stop offset="0.125" stop-color="rgb(26,26,26)"/><stop offset="0.188" stop-color="rgb(24,24,24)"/><stop offset="0.250" stop-color="rgb(23,23,23)"/><stop offset="0.312" stop-color="rgb(21,21,21)"/><stop offset="0.375" stop-color="rgb(20,20,20)"/><stop offset="0.438" stop-color="rgb(19,19,19)"/><stop offset="0.500" stop-color="rgb(18,18,18)"/><stop offset="0.562" stop-color="rgb(18,18,18)"/><stop offset="0.625" stop-color="rgb(17,17,17)"/><stop offset="0.688" stop-color="rgb(17,17,17)"/><stop offset="0.750" stop-color="rgb(17,17,17)"/><stop offset="0.812" stop-color="rgb(17,17,17)"/><stop offset="0.875" stop-color="rgb(17,17,17)"/><stop offset="0.938" stop-color="rgb(17,17,17)"/><stop offset="1.000" stop-color="rgb(17,17,17)"/></radialGradient>
<radialGradient id="g88"><stop offset="0.000" stop-color="rgb(47,47,47)"/><stop offset="0.062" stop-color="rgb(46,46,46)"/><stop offset="0.125" stop-color="rgb(44,44,44)"/><stop offset="0.188" stop-color="rgb(40,40,40)"/><stop offset="0.250" stop-color="rgb(35,35,35)"/><stop offset="0.312" stop-color="rgb(31,31,31)"/><stop offset="0.375" stop-color="rgb(27,27,27)"/><stop offset="0.438" stop-color="rgb(24,24,24)"/><stop offset="0.500" stop-color="rgb(21,21,21)"/><stop offset="0.562" stop-color="rgb(20,20,20)"/><stop offset="0.625" stop-color="rgb(18,18,18)"/><stop offset="0.688" stop-color="rgb(18,18,18)"/><stop offset="0.750" stop-color="rgb(17,17,17)"/><stop offset="0.812" stop-color="rgb(17,17,17)"/><stop offset="0.875" stop-color="rgb(17,17,17)"/><stop offset="0.938" stop-color="rgb(17,17,17)"/><stop offset="1.000" stop-color="rgb(17,17,17)"/></radialGradient>
<radialGradient id="g89"><stop offset="0.000" stop-color="rgb(44,44,44)"/><stop offset="0.062" stop-color="rgb(43,43,43)"/><stop offset="0.125" stop-color="rgb(41,41,41)"/><stop offset="0.188" stop-color="rgb(37,37,37)"/><stop offset="0.250" stop-color="rgb(34,34,34)"/><stop offset="0.312" stop-color="rgb(30,30,30)"/><stop offset="0.375" stop-color="rgb(26,26,26)"/><stop offset="0.438" stop-color="rgb(23,23,23)"/><stop offset="0.500" stop-color="rgb(21,21,21)"/><stop offset="0.562" stop-color="rgb(19,19,19)"/><stop offset="0.625" stop-color="rgb(18,18,18)"/><stop offset="0.688" stop-color="rgb(18,18,18)"/><stop offset="0.750" stop-color="rgb(17,17,17)"/><stop offset="0.812" stop-color="rgb(17,17,17)"/><stop offset="0.875" stop-color="rgb(17,17,17)"/><stop offset="0.938" stop-color="rgb(17,17,17)"/><stop offset="1.000" stop-color="rgb(17,17,17)"/></radialGradient>
<radialGradient id="g90"><stop offset="0.000" stop-color="rgb(28,28,28)"/><stop offset="0.062" stop-color="rgb(27,27,27)"/><stop offset="0.125" stop-color="rgb(26,26,26)"/><stop offset="0.188" stop-color="rgb(25,25,25)"/><stop offset="0.250" stop-color="rgb(23,23,23)"/><stop offset="0.312" stop-color="rgb(22,22,22)"/><stop offset="0.375" stop-color="rgb(20,20,20)"/><stop offset="0.438" stop-color="rgb(19,19,19)"/><stop offset="0.500" stop-color="rgb(18,18,18)"/><stop offset="0.562" stop-color="rgb(18,18,18)"/><stop offset="0.625" stop-color="rgb(17,17,17)"/><stop offset="0.688" stop-color="rgb(17,17,17)"/><stop offset="0.750" stop-color="rgb(17,17,17)"/><stop offset="0.812" stop-color="rgb(17,17,17)"/><stop offset="0.875" stop-color="rgb(17,17,17)"/><stop offset="0.938" stop-color="rgb(17,17,17)"/><stop offset="1.000" stop-color="rgb(17,17,17)"/></radialGradient>
<radialGradient id="g91"><stop offset="0.000" stop-color="rgb(24,24,24)"/><stop offset="0.062" stop-color="rgb(23,23,23)"/><stop offset="0.125" stop-color="rgb(23,23,23)"/><stop offset="0.188" stop-color="rgb(22,22,22)"/><stop offset="0.250" stop-color="rgb(21,21,21)"/><stop offset="0.312" stop-color="rgb(20,20,20)"/><stop offset="0.375" stop-color="rgb(19,19,19)"/><stop offset="0.438" stop-color="rgb(18,18,18)"/><stop offset="0.500" stop-color="rgb(18,18,18)"/><stop offset="0.562" stop-color="rgb(17,17,17)"/><stop offset="0.625" stop-color="rgb(17,17,17)"/><stop offset="0.688" stop-color="rgb(17,17,17)"/><stop offset="0.750" stop-color="rgb(17,17,17)"/><stop offset="0.812" stop-color="rgb(17,17,17)"/><stop offset="0.875" stop-color="rgb(17,17,17)"/><stop offset="0.938" stop-color="rgb(17,17,17)"/><stop offset="1.000" stop-color="rgb(17,17,17)"/></radialGradient>
<radialGradient id="g92"><stop offset="0.000" stop-color="rgb(50,50,50)"/><stop offset="0.062" stop-color="rgb(49,49,49)"/><stop offset="0.125" stop-color="rgb(46,46,46)"/><stop offset="0.188" stop-color="rgb(42,42,42)"/><stop offset="0.250" stop-color="rgb(37,37,37)"/><stop offset="0.312" stop-color="rgb(32,32,32)"/><stop offset="0.375" stop-color="rgb(28,28,28)"/><stop offset="0.438" stop-color="rgb(24,24,24)"/><stop offset="0.500" stop-color="rgb(22,22,22)"/><stop offset="0.562" stop-color="rgb(20,20,20)"/><stop offset="0.625" stop-color="rgb(19,19,19)"/><stop offset="0.688" stop-color="rgb(18,18,18)"/><stop offset="0.750" stop-color="rgb(17,17,17)"/><stop offset="0.812" stop-color="rgb(17,17,17)"/><stop offset="0.875" stop-color="rgb(17,17,17)"/><stop offset="0.938" stop-color="rgb(17,17,17)"/><stop offset="1.000" stop-color="rgb(17,17,17)"/></radialGradient>
<radialGradient id="g93"><stop offset="0.000" stop-color="rgb(48,48,48)"/><stop offset="0.062" stop-color="rgb(47,47,47)"/><stop offset="0.125" stop-color="rgb(44,44,44)"/><stop offset="0.188" stop-color="rgb(41,41,41)"/><stop offset="0.250" stop-color="rgb(36,36,36)"/><stop offset="0.312" stop-color="rgb(31,31,31)"/><stop offset="0.375" stop-color="rgb(27,27,27)"/><stop offset="0.438" stop-color="rgb(24,24,24)"/><stop offset="0.500" stop-color="rgb(21,21,21)"/><stop offset="0.562" stop-color="rgb(20,20,20)"/><stop offset="0.625" stop-color="rgb(18,18,18)"/><stop offset="0.688" stop-color="rgb(18,18,18)"/><stop offset="0.750" stop-color="rgb(17,17,17)"/><stop offset="0.812" stop-color="rgb(17,17,17)"/><stop offset="0.875" stop-color="rgb(17,17,17)"/><stop offset="0.938" stop-color="rgb(17,17,17)"/><stop offset="1.000" stop-color="rgb(17,17,17)"/></radialGradient>
<radialGradient id="g94"><stop offset="0.000" stop-color="rgb(39,39,39)"/><stop offset="0.062" stop-color="rgb(38,38,38)"/><stop offset="0.125" stop-color="rgb(36,36,36)"/><stop offset="0.188" stop-color="rgb(34,34,34)"/><stop offset="0.250" stop-color="rgb(30,30,30)"/><stop offset="0.312" stop-color="rgb(27,27,27)"/><stop offset="0.375" stop-color="rgb(24,24,24)"/><stop offset="0.438" stop-color="rgb(22,22,22)"/><stop offset="0.500" stop-color="rgb(20,20,20)"/><stop offset="0.562" stop-color="rgb(19,19,19)"/><stop offset="0.625" stop-color="rgb(18,18,18)"/><stop offset="0.688" stop-color="rgb(17,17,17)"/><stop offset="0.750" stop-color="rgb(17,17,17)"/><stop offset="0.812" stop-color="rgb(17,17,17)"/><stop offset="0.875" stop-color="rgb(17,17,17)"/><stop offset="0.938" stop-color="rgb(17,17,17)"/><stop offset="1.000" stop-color="rgb(17,17,17)"/></radialGradient>
<radialGradient id="g95"><stop offset="0.000" stop-color="rgb(35,35,35)"/><stop offset="0.062" stop-color="rgb(34,34,34)"/><stop offset="0.125" stop-color="rgb(33,33,33)"/><stop offset="0.188" stop-color="rgb(30,30,30)"/><stop offset="0.250" stop-color="rgb(28,28,28)"/><stop offset="0.312" stop-color="rgb(25,25,25)"/><stop offset="0.375" stop-color="rgb(23,23,23)"/><stop offset="0.438" stop-color="rgb(21,21,21)"/><stop offset="0.500" stop-color="rgb(19,19,19)"/><stop offset="0.562" stop-color="rgb(18,18,18)"/><stop offset="0.625" stop-color="rgb(18,18,18)"/><stop offset="0.688" stop-color="rgb(17,17,17)"/><stop offset="0.750" stop-color="rgb(17,17,17)"/><stop offset="0.812" stop-color="rgb(17,17,17)"/><stop offset="0.875" stop-color="rgb(17,17,17)"/><stop offset="0.938" stop-color="rgb(17,17,17)"/><stop offset="1.000" stop-color="rgb(17,17,17)"/></radialGradient>
<radialGradient id="g96"><stop offset="0.000" stop-color="rgb(30,30,30)"/><stop offset="0.062" stop-color="rgb(30,30,30)"/><stop offset="0.125" stop-color="rgb(28,28,28)"/><stop offset="0.188" stop-color="rgb(27,27,27)"/><stop offset="0.250" stop-color="rgb(25,25,25)"/><stop offset="0.312" stop-color="rgb(23,23,23)"/><stop offset="0.375" stop-color="rgb(21,21,21)"/><stop offset="0.438" stop-color="rgb(20,20,20)"/><stop offset="0.500" stop-color="rgb(19,19,19)"/><stop offset="0.562" stop-color="rgb(18,18,18)"/><stop offset="0.625" stop-color="rgb(17,17,17)"/><stop offset="0.688" stop-color="rgb(17,17,17)"/><stop offset="0.750" stop-color="rgb(17,17,17)"/><stop offset="0.812" stop-color="rgb(17,17,17)"/><stop offset="0.875" stop-color="rgb(17,17,17)"/><stop offset="0.938" stop-color="rgb(17,17,17)"/><stop offset="1.000" stop-color="rgb(17,17,17)"/></radialGradient>
<radialGradient id="g97"><stop offset="0.000" stop-color="rgb(56,56,56)"/><stop offset="0.062" stop-color="rgb(54,54,54)"/><stop offset="0.125" stop-color="rgb(51,51,51)"/><stop offset="0.188" stop-color="rgb(46,46,46)"/><stop offset="0.250" stop-color="rgb(41,41,41)"/><stop offset="0.312" stop-color="rgb(35,35,35)"/><stop offset="0.375" stop-color="rgb(30,30,30)"/><stop offset="0.438" stop-color="rgb(26,26,26)"/><stop offset="0.500" stop-color="rgb(23,23,23)"/><stop offset="0.562" stop-color="rgb(20,20,20)"/><stop offset="0.625" stop-color="rgb(19,19,19)"/><stop offset="0.688" stop-color="rgb(18,18,18)"/><stop offset="0.750" stop-color="rgb(17,17,17)"/><stop offset="0.812" stop-color="rgb(17,17,17)"/><stop offset="0.875" stop-color="rgb(17,17,17)"/><stop offset="0.938" stop-color="rgb(17,17,17)"/><stop offset="1.000" stop-color="rgb(17,17,17)"/></radialGradient>
<radialGradient id="g98"><stop offset="0.000" stop-color="rgb(255,255,255)"/><stop offset="0.062" stop-color="rgb(255,255,255)"/><stop offset="0.125" stop-color="rgb(235,235,235)"/><stop offset="0.188" stop-color="rgb(204,204,204)"/><stop offset="0.250" stop-color="rgb(169,169,169)"/><stop offset="0.312" stop-color="rgb(133,133,133)"/><stop offset="0.375" stop-color="rgb(101,101,101)"/><stop offset="0.438" stop-color="rgb(74,74,74)"/><stop offset="0.500" stop-color="rgb(54,54,54)"/><stop offset="0.562" stop-color="rgb(40,40,40)"/><stop offset="0.625" stop-color="rgb(31,31,31)"/><stop offset="0.688" stop-color="rgb(25,25,25)"/><stop offset="0.750" stop-color="rgb(21,21,21)"/><stop offset="0.812" stop-color="rgb(19,19,19)"/><stop offset="0.875" stop-color="rgb(18,18,18)"/><stop offset="0.938" stop-color="rgb(17,17,17)"/><stop offset="1.000" stop-color="rgb(17,17,17)"/></radialGradient>
<radialGradient id="g99"><stop offset="0.000" stop-color="rgb(255,255,255)"/><stop offset="0.062" stop-color="rgb(255,255,255)"/><stop offset="0.125" stop-color="rgb(255,255,255)"/><stop offset="0.188" stop-color="rgb(255,255,255)"/><stop offset="0.250" stop-color="rgb(221,221,221)"/><stop offset="0.312" stop-color="rgb(173,173,173)"/><stop offset="0.375" stop-color="rgb(130,130,130)"/><stop offset="0.438" stop-color="rgb(94,94,94)"/><stop offset="0.500" stop-color="rgb(67,67,67)"/><stop offset="0.562" stop-color="rgb(48,48,48)"/><stop offset="0.625" stop-color="rgb(36,36,36)"/><stop offset="0.688" stop-color="rgb(28,28,28)"/><stop offset="0.750" stop-color="rgb(23,23,23)"/><stop offset="0.812" stop-color="rgb(20,20,20)"/><stop offset="0.875" stop-color="rgb(18,18,18)"/><stop offset="0.938" stop-color="rgb(17,17,17)"/><stop offset="1.000" stop-color="rgb(17,17,17)"/></radialGradient>
<radialGradient id="g100"><stop offset="0.000" stop-color="rgb(255,255,255)"/><stop offset="0.062" stop-color="rgb(255,255,255)"/><stop offset="0.125" stop-color="rgb(255,255,255)"/><stop offset="0.188" stop-color="rgb(242,242,242)"/><stop offset="0.250" stop-color="rgb(199,199,199)"/><stop offset="0.312" stop-color="rgb(156,156,156)"/><stop offset="0.375" stop-color="rgb(118,118,118)"/><stop offset="0.438" stop-color="rgb(86,86,86)"/><stop offset="0.500" stop-color="rgb(62,62,62)"/><stop offset="0.562" stop-color="rgb(45,45,45)"/><stop offset="0.625" stop-color="rgb(34,34,34)"/><stop offset="0.688" stop-color="rgb(27,27,27)"/><stop offset="0.750" stop-color="rgb(22,22,22)"/><stop offset="0.812" stop-color="rgb(20,20,20)"/><stop offset="0.875" stop-color="rgb(18,18,18)"/><stop offset="0.938" stop-color="rgb(17,17,17)"/><stop offset="1.000" stop-color="rgb(17,17,17)"/></radialGradient>
<radialGradient id="g101"><stop offset="0.000" stop-color="rgb(214,214,214)"/><stop offset="0.062" stop-color="rgb(208,208,208)"/><stop offset="0.125" stop-color="rgb(192,192,192)"/><stop offset="0.188" stop-color="rgb(167,167,167)"/><stop offset="0.250" stop-color="rgb(139,139,139)"/><stop offset="0.312" stop-color="rgb(110,110,110)"/><stop offset="0.375" stop-color="rgb(84,84,84)"/><stop offset="0.438" stop-color="rgb(63,63,63)"/><stop offset="0.500" stop-color="rgb(47,47,47)"/><stop offset="0.562" stop-color="rgb(36,36,36)"/><stop offset="0.625" stop-color="rgb(28,28,28)"/><stop offset="0.688" stop-color="rgb(23,23,23)"/><stop offset="0.750" stop-color="rgb(20,20,20)"/><stop offset="0.812" stop-color="rgb(19,19,19)"/><stop offset="0.875" stop-color="rgb(18,18,18)"/><stop offset="0.938" stop-color="rgb(17,17,17)"/><stop offset="1.000" stop-color="rgb(17,17,17)"/></radialGradient>
<radialGradient id="g102"><stop offset="0.000" stop-color="rgb(23,23,23)"/><stop offset="0.062" stop-color="rgb(23,23,23)"/><stop offset="0.125" stop-color="rgb(22,22,22)"/><stop offset="0.188" stop-color="rgb(21,21,21)"/><stop offset="0.250" stop-color="rgb(20,20,20)"/><stop offset="0.312" stop-color="rgb(20,20,20)"/><stop offset="0.375" stop-color="rgb(19,19,19)"/><stop offset="0.438" stop-color="rgb(18,18,18)"/><stop offset="0.500" stop-color="rgb(18,18,18)"/><stop offset="0.562" stop-color="rgb(17,17,17)"/><stop offset="0.625" stop-color="rgb(17,17,17)"/><stop offset="0.688" stop-color="rgb(17,17,17)"/><stop offset="0.750" stop-color="rgb(17,17,17)"/><stop offset="0.812" stop-color="rgb(17,17,17)"/><stop offset="0.875" stop-color="rgb(17,17,17)"/><stop offset="0.938" stop-color="rgb(17,17,17)"/><stop offset="1.000" stop-color="rgb(17,17,17)"/></radialGradient>
<radialGradient id="g103"><stop offset="0.000" stop-color="rgb(255,255,255)"/><stop offset="0.062" stop-color="rgb(255,255,255)"/><stop offset="0.125" stop-color="rgb(255,255,255)"/><stop offset="0.188" stop-color="rgb(231,231,231)"/><stop offset="0.250" stop-color="rgb(190,190,190)"/><stop offset="0.312" stop-color="rgb(150,150,150)"/><stop offset="0.375" stop-color="rgb(113,113,113)"/><stop offset="0.438" stop-color="rgb(83,83,83)"/><stop offset="0.500" stop-color="rgb(60,60,60)"/><stop offset="0.562" stop-color="rgb(44,44,44)"/><stop offset="0.625" stop-color="rgb(33,33,33)"/><stop offset="0.688" stop-color="rgb(26,26,26)"/><stop offset="0.750" stop-color="rgb(22,22,22)"/><stop offset="0.812" stop-color="rgb(20,20,20)"/><stop offset="0.875" stop-color="rgb(18,18,18)"/><stop offset="0.938" stop-color="rgb(17,17,17)"/><stop offset="1.000" stop-color="rgb(17,17,17)"/></radialGradient>
<radialGradient id="g104"><stop offset="0.000" stop-color="rgb(18,18,18)"/><stop offset="0.062" stop-color="rgb(18,18,18)"/><stop offset="0.125" stop-color="rgb(18,18,18)"/><stop offset="0.188" stop-color="rgb(18,18,18)"/><stop offset="0.250" stop-color="rgb(17,17,17)"/><stop offset="0.312" stop-color="rgb(17,17,17)"/><stop offset="0.375" stop-color="rgb(17,17,17)"/><stop offset="0.438" stop-color="rgb(17,17,17)"/><stop offset="0.500" stop-color="rgb(17,17,17)"/><stop offset="0.562" stop-color="rgb(17,17,17)"/><stop offset="0.625" stop-color="rgb(17,17,17)"/><stop offset="0.688" stop-color="rgb(17,17,17)"/><stop offset="0.750" stop-color="rgb(17,17,17)"/><stop offset="0.812" stop-color="rgb(17,17,17)"/><stop offset="0.875" stop-color="rgb(17,17,17)"/><stop offset="0.938" stop-color="rgb(17,17,17)"/><stop offset="1.000" stop-color="rgb(17,17,17)"/></radialGradient>
<radialGradient id="g105"><stop offset="0.000" stop-color="rgb(128,128,128)"/><stop offset="0.062" stop-color="rgb(125,125,125)"/><stop offset="0.125" stop-color="rgb(116,116,116)"/><stop offset="0.188" stop-color="rgb(102,102,102)"/><stop offset="0.250" stop-color="rgb(86,86,86)"/><stop offset="0.312" stop-color="rgb(69,69,69)"/><stop offset="0.375" stop-color="rgb(55,55,55)"/><stop offset="0.438" stop-color="rgb(43,43,43)"/><stop offset="0.500" stop-color="rgb(34,34,34)"/><stop offset="0.562" stop-color="rgb(27,27,27)"/><stop offset="0.625" stop-color="rgb(23,23,23)"/><stop offset="0.688" stop-color="rgb(20,20,20)"/><stop offset="0.750" stop-color="rgb(19,19,19)"/><stop offset="0.812" stop-color="rgb(18,18,18)"/><stop offset="0.875" stop-color="rgb(17,17,17)"/><stop offset="0.938" stop-color="rgb(17,17,17)"/><stop offset="1.000" stop-color="rgb(17,17,17)"/></radialGradient>
<radialGradient id="g106"><stop offset="0.000" stop-color="rgb(147,147,147)"/><stop offset="0.062" stop-color="rgb(143,143,143)"/><stop offset="0.125" stop-color="rgb(132,132,132)"/><stop offset="0.188" stop-color="rgb(116,116,116)"/><stop offset="0.250" stop-color="rgb(97,97,97)"/><stop offset="0.312" stop-color="rgb(78,78,78)"/><stop offset="0.375" stop-color="rgb(61,61,61)"/><stop offset="0.438" stop-color="rgb(47,47,47)"/><stop offset="0.500" stop-color="rgb(37,37,37)"/><stop offset="0.562" stop-color="rgb(29,29,29)"/><stop offset="0.625" stop-color="rgb(24,24,24)"/><stop offset="0.688" stop-color="rgb(21,21,21)"/><stop offset="0.750" stop-color="rgb(19,19,19)"/><stop offset="0.812" stop-color="rgb(18,18,18)"/><stop offset="0.875" stop-color="rgb(17,17,17)"/><stop offset="0.938" stop-color="rgb(17,17,17)"/><stop offset="1.000" stop-color="rgb(17,17,17)"/></radialGradient>
<radialGradient id="g107"><stop offset="0.000" stop-color="rgb(120,120,120)"/><stop offset="0.062" stop-color="rgb(117,117,117)"/><stop offset="0.125" stop-color="rgb(108,108,108)"/><stop offset="0.188" stop-color="rgb(96,96,96)"/><stop offset="0.250" stop-color="rgb(81,81,81)"/><stop offset="0.312" stop-color="rgb(66,66,66)"/><stop offset="0.375" stop-color="rgb(52,52,52)"/><stop offset="0.438" stop-color="rgb(41,41,41)"/><stop offset="0.500" stop-color="rgb(33,33,33)"/><stop offset="0.562" stop-color="rgb(27,27,27)"/><stop offset="0.625" stop-color="rgb(23,23,23)"/><stop offset="0.688" stop-color="rgb(20,20,20)"/><stop offset="0.750" stop-color="rgb(19,19,19)"/><stop offset="0.812" stop-color="rgb(18,18,18)"/><stop offset="0.875" stop-color="rgb(17,17,17)"/><stop offset="0.938" stop-color="rgb(17,17,17)"/><stop offset="1.000" stop-color="rgb(17,17,17)"/></radialGradient>
<radialGradient id="g108"><stop offset="0.000" stop-color="rgb(50,50,50)"/><stop offset="0.062" stop-color="rgb(49,49,49)"/><stop offset="0.125" stop-color="rgb(46,46,46)"/><stop offset="0.188" stop-color="rgb(42,42,42)"/><stop offset="0.250" stop-color="rgb(37,37,37)"/><stop offset="0.312" stop-color="rgb(32,32,32)"/><stop offset="0.375" stop-color="rgb(28,28,28)"/><stop offset="0.438" stop-color="rgb(24,24,24)"/><stop offset="0.500" stop-color="rgb(22,22,22)"/><stop offset="0.562" stop-color="rgb(20,20,20)"/><stop offset="0.625" stop-color="rgb(19,19,19)"/><stop offset="0.688" stop-color="rgb(18,18,18)"/><stop offset="0.750" stop-color="rgb(17,17,17)"/><stop offset="0.812" stop-color="rgb(17,17,17)"/><stop offset="0.875" stop-color="rgb(17,17,17)"/><stop offset="0.938" stop-color="rgb(17,17,17)"/><stop offset="1.000" stop-color="rgb(17,17,17)"/></radialGradient>
<radialGradient id="g109"><stop offset="0.000" stop-color="rgb(34,34,34)"/><stop offset="0.062" stop-color="rgb(34,34,34)"/><stop offset="0.125" stop-color="rgb(32,32,32)"/><stop offset="0.188" stop-color="rgb(30,30,30)"/><stop offset="0.250" stop-color="rgb(27,27,27)"/><stop offset="0.312" stop-color="rgb(25,25,25)"/><stop offset="0.375" stop-color="rgb(23,23,23)"/><stop offset="0.438" stop-color="rgb(21,21,21)"/><stop offset="0.500" stop-color="rgb(19,19,19)"/><stop offset="0.562" stop-color="rgb(18,18,18)"/><stop offset="0.625" stop-color="rgb(18,18,18)"/><stop offset="0.688" stop-color="rgb(17,17,17)"/><stop offset="0.750" stop-color="rgb(17,17,17)"/><stop offset="0.812" stop-color="rgb(17,17,17)"/><stop offset="0.875" stop-color="rgb(17,17,17)"/><stop offset="0.938" stop-color="rgb(17,17,17)"/><stop offset="1.000" stop-color="rgb(17,17,17)"/></radialGradient>
<linearGradient id="cb" x1="0" y1="0" x2="0" y2="1"><stop offset="0.0000" stop-color="rgb(196,20,18)"/><stop offset="0.0500" stop-color="rgb(230,70,10)"/><stop offset="0.0900" stop-color="rgb(235,110,5)"/><stop offset="0.1480" stop-color="rgb(248,160,8)"/><stop offset="0.2000" stop-color="rgb(252,205,10)"/><stop offset="0.2480" stop-color="rgb(255,250,0)"/><stop offset="0.3040" stop-color="rgb(200,240,0)"/><stop offset="0.3610" stop-color="rgb(140,230,0)"/><stop offset="0.4000" stop-color="rgb(90,220,0)"/><stop offset="0.4400" stop-color="rgb(50,210,10)"/><stop offset="0.5170" stop-color="rgb(10,195,15)"/><stop offset="0.5560" stop-color="rgb(10,200,40)"/><stop offset="0.6000" stop-color="rgb(0,205,90)"/><stop offset="0.6340" stop-color="rgb(0,215,130)"/><stop offset="0.6730" stop-color="rgb(0,230,170)"/><stop offset="0.7400" stop-color="rgb(0,240,235)"/><stop offset="0.8000" stop-color="rgb(0,200,240)"/><stop offset="0.8670" stop-color="rgb(0,140,245)"/><stop offset="0.9060" stop-color="rgb(0,100,240)"/><stop offset="0.9450" stop-color="rgb(0,50,230)"/><stop offset="0.9700" stop-color="rgb(0,25,215)"/><stop offset="0.9840" stop-color="rgb(0,10,200)"/><stop offset="1.0000" stop-color="rgb(0,0,165)"/></linearGradient>
<clipPath id="cp"><rect x="87.8" y="70.3" width="33.9" height="326.7"/><rect x="161.4" y="70.3" width="33.9" height="326.7"/><rect x="340.7" y="57" width="52.2" height="343.3"/><rect x="435.8" y="57" width="52" height="343.3"/></clipPath>
</defs>
<rect width="675" height="418" fill="#fff"/>
<g filter="url(#jet)" class="hm">
<rect x="87.8" y="70.3" width="33.9" height="326.7" fill="rgb(13,13,13)"/>
<rect x="161.4" y="70.3" width="33.9" height="326.7" fill="rgb(13,13,13)"/>
<rect x="340.7" y="57" width="52.2" height="343.3" fill="rgb(17,17,17)"/>
<rect x="435.8" y="57" width="52" height="343.3" fill="rgb(17,17,17)"/>
<g clip-path="url(#cp)">
<circle cx="101.9" cy="195.0" r="7.0" fill="url(#g0)"/>
<circle cx="101.9" cy="250.8" r="7.0" fill="url(#g0)"/>
<circle cx="112.6" cy="195.0" r="7.0" fill="url(#g1)"/>
<circle cx="112.6" cy="250.8" r="7.0" fill="url(#g1)"/>
<circle cx="109.9" cy="199.6" r="7.0" fill="url(#g1)"/>
<circle cx="109.9" cy="246.2" r="7.0" fill="url(#g1)"/>
<circle cx="99.3" cy="199.6" r="7.0" fill="url(#g2)"/>
<circle cx="104.6" cy="199.6" r="7.0" fill="url(#g3)"/>
<circle cx="99.3" cy="246.2" r="7.0" fill="url(#g2)"/>
<circle cx="104.6" cy="246.2" r="7.0" fill="url(#g3)"/>
<circle cx="96.8" cy="204.2" r="7.0" fill="url(#g4)"/>
<circle cx="96.8" cy="241.6" r="7.0" fill="url(#g4)"/>
<circle cx="107.3" cy="204.2" r="7.0" fill="url(#g5)"/>
<circle cx="107.3" cy="241.6" r="7.0" fill="url(#g5)"/>
<circle cx="99.3" cy="208.9" r="7.0" fill="url(#g6)"/>
<circle cx="99.3" cy="236.9" r="7.0" fill="url(#g6)"/>
<circle cx="104.6" cy="208.9" r="7.0" fill="url(#g5)"/>
<circle cx="109.9" cy="208.9" r="7.0" fill="url(#g7)"/>
<circle cx="104.6" cy="236.9" r="7.0" fill="url(#g5)"/>
<circle cx="109.9" cy="236.9" r="7.0" fill="url(#g7)"/>
<circle cx="101.9" cy="213.4" r="7.0" fill="url(#g8)"/>
<circle cx="101.9" cy="232.4" r="7.0" fill="url(#g8)"/>
<circle cx="112.6" cy="213.4" r="7.0" fill="url(#g9)"/>
<circle cx="112.6" cy="232.4" r="7.0" fill="url(#g9)"/>
<circle cx="99.3" cy="217.9" r="7.0" fill="url(#g4)"/>
<circle cx="104.6" cy="217.9" r="7.0" fill="url(#g7)"/>
<circle cx="99.3" cy="227.9" r="7.0" fill="url(#g4)"/>
<circle cx="104.6" cy="227.9" r="7.0" fill="url(#g7)"/>
<circle cx="109.9" cy="217.9" r="7.0" fill="url(#g10)"/>
<circle cx="109.9" cy="227.9" r="7.0" fill="url(#g10)"/>
<circle cx="96.8" cy="222.9" r="7.0" fill="url(#g11)"/>
<circle cx="107.3" cy="222.9" r="7.0" fill="url(#g12)"/>
<circle cx="170.1" cy="204.0" r="7.0" fill="url(#g1)"/>
<circle cx="170.1" cy="260.2" r="7.0" fill="url(#g1)"/>
<circle cx="180.7" cy="204.0" r="7.0" fill="url(#g3)"/>
<circle cx="180.7" cy="260.2" r="7.0" fill="url(#g3)"/>
<circle cx="172.6" cy="208.7" r="7.0" fill="url(#g1)"/>
<circle cx="172.6" cy="255.5" r="7.0" fill="url(#g1)"/>
<circle cx="177.9" cy="208.7" r="7.0" fill="url(#g2)"/>
<circle cx="183.4" cy="208.7" r="7.0" fill="url(#g1)"/>
<circle cx="177.9" cy="255.5" r="7.0" fill="url(#g2)"/>
<circle cx="183.4" cy="255.5" r="7.0" fill="url(#g1)"/>
<circle cx="175.2" cy="213.2" r="7.0" fill="url(#g7)"/>
<circle cx="175.2" cy="251.0" r="7.0" fill="url(#g7)"/>
<circle cx="186.0" cy="213.2" r="7.0" fill="url(#g10)"/>
<circle cx="186.0" cy="251.0" r="7.0" fill="url(#g10)"/>
<circle cx="172.6" cy="217.8" r="7.0" fill="url(#g7)"/>
<circle cx="177.9" cy="217.8" r="7.0" fill="url(#g7)"/>
<circle cx="172.6" cy="246.4" r="7.0" fill="url(#g7)"/>
<circle cx="177.9" cy="246.4" r="7.0" fill="url(#g7)"/>
<circle cx="183.4" cy="217.8" r="7.0" fill="url(#g8)"/>
<circle cx="183.4" cy="246.4" r="7.0" fill="url(#g8)"/>
<circle cx="170.1" cy="222.6" r="7.0" fill="url(#g11)"/>
<circle cx="170.1" cy="241.6" r="7.0" fill="url(#g11)"/>
<circle cx="180.7" cy="222.6" r="7.0" fill="url(#g13)"/>
<circle cx="180.7" cy="241.6" r="7.0" fill="url(#g13)"/>
<circle cx="172.6" cy="227.3" r="7.0" fill="url(#g13)"/>
<circle cx="172.6" cy="236.8" r="7.0" fill="url(#g13)"/>
<circle cx="177.9" cy="227.3" r="7.0" fill="url(#g14)"/>
<circle cx="183.4" cy="227.3" r="7.0" fill="url(#g14)"/>
<circle cx="177.9" cy="236.8" r="7.0" fill="url(#g14)"/>
<circle cx="183.4" cy="236.8" r="7.0" fill="url(#g14)"/>
<circle cx="175.2" cy="232.1" r="7.0" fill="url(#g15)"/>
<circle cx="186.0" cy="232.1" r="7.0" fill="url(#g15)"/>
<circle cx="357.1" cy="221.3" r="7.0" fill="url(#g16)"/>
<circle cx="354.2" cy="226.7" r="7.0" fill="url(#g17)"/>
<circle cx="360.1" cy="226.7" r="7.0" fill="url(#g18)"/>
<circle cx="357.1" cy="242.7" r="7.0" fill="url(#g16)"/>
<circle cx="354.2" cy="237.3" r="7.0" fill="url(#g17)"/>
<circle cx="360.1" cy="237.3" r="7.0" fill="url(#g18)"/>
<circle cx="357.1" cy="199.9" r="7.0" fill="url(#g19)"/>
<circle cx="354.2" cy="205.2" r="7.0" fill="url(#g20)"/>
<circle cx="357.1" cy="264.1" r="7.0" fill="url(#g19)"/>
<circle cx="354.2" cy="258.8" r="7.0" fill="url(#g20)"/>
<circle cx="357.1" cy="178.5" r="7.0" fill="url(#g21)"/>
<circle cx="354.2" cy="183.8" r="7.0" fill="url(#g22)"/>
<circle cx="357.1" cy="285.5" r="7.0" fill="url(#g21)"/>
<circle cx="354.2" cy="280.2" r="7.0" fill="url(#g22)"/>
<circle cx="357.1" cy="157.1" r="7.0" fill="url(#g18)"/>
<circle cx="354.2" cy="162.5" r="7.0" fill="url(#g23)"/>
<circle cx="357.1" cy="306.9" r="7.0" fill="url(#g18)"/>
<circle cx="354.2" cy="301.6" r="7.0" fill="url(#g23)"/>
<circle cx="357.1" cy="135.7" r="7.0" fill="url(#g24)"/>
<circle cx="357.1" cy="328.3" r="7.0" fill="url(#g24)"/>
<circle cx="354.2" cy="215.9" r="7.0" fill="url(#g20)"/>
<circle cx="360.1" cy="215.9" r="7.0" fill="url(#g22)"/>
<circle cx="354.2" cy="248.1" r="7.0" fill="url(#g20)"/>
<circle cx="360.1" cy="248.1" r="7.0" fill="url(#g22)"/>
<circle cx="354.2" cy="194.6" r="7.0" fill="url(#g18)"/>
<circle cx="360.1" cy="194.6" r="7.0" fill="url(#g23)"/>
<circle cx="354.2" cy="269.4" r="7.0" fill="url(#g18)"/>
<circle cx="360.1" cy="269.4" r="7.0" fill="url(#g23)"/>
<circle cx="354.2" cy="173.2" r="7.0" fill="url(#g23)"/>
<circle cx="360.1" cy="173.2" r="7.0" fill="url(#g24)"/>
<circle cx="354.2" cy="290.8" r="7.0" fill="url(#g23)"/>
<circle cx="360.1" cy="290.8" r="7.0" fill="url(#g24)"/>
<circle cx="354.2" cy="151.8" r="7.0" fill="url(#g24)"/>
<circle cx="354.2" cy="312.2" r="7.0" fill="url(#g24)"/>
<circle cx="375.9" cy="232.0" r="7.0" fill="url(#g25)"/>
<circle cx="379.1" cy="237.3" r="7.0" fill="url(#g17)"/>
<circle cx="372.8" cy="237.3" r="7.0" fill="url(#g18)"/>
<circle cx="379.1" cy="226.7" r="7.0" fill="url(#g17)"/>
<circle cx="372.8" cy="226.7" r="7.0" fill="url(#g18)"/>
<circle cx="375.9" cy="210.6" r="7.0" fill="url(#g16)"/>
<circle cx="379.1" cy="215.9" r="7.0" fill="url(#g20)"/>
<circle cx="375.9" cy="253.4" r="7.0" fill="url(#g16)"/>
<circle cx="379.1" cy="248.1" r="7.0" fill="url(#g20)"/>
<circle cx="375.9" cy="189.2" r="7.0" fill="url(#g17)"/>
<circle cx="379.1" cy="194.6" r="7.0" fill="url(#g18)"/>
<circle cx="375.9" cy="274.8" r="7.0" fill="url(#g17)"/>
<circle cx="379.1" cy="269.4" r="7.0" fill="url(#g18)"/>
<circle cx="375.9" cy="167.8" r="7.0" fill="url(#g20)"/>
<circle cx="379.1" cy="173.2" r="7.0" fill="url(#g23)"/>
<circle cx="375.9" cy="296.2" r="7.0" fill="url(#g20)"/>
<circle cx="379.1" cy="290.8" r="7.0" fill="url(#g23)"/>
<circle cx="375.9" cy="146.4" r="7.0" fill="url(#g23)"/>
<circle cx="379.1" cy="151.8" r="7.0" fill="url(#g24)"/>
<circle cx="375.9" cy="317.6" r="7.0" fill="url(#g23)"/>
<circle cx="379.1" cy="312.2" r="7.0" fill="url(#g24)"/>
<circle cx="375.9" cy="125.0" r="7.0" fill="url(#g26)"/>
<circle cx="375.9" cy="339.0" r="7.0" fill="url(#g26)"/>
<circle cx="379.1" cy="205.2" r="7.0" fill="url(#g20)"/>
<circle cx="372.8" cy="205.2" r="7.0" fill="url(#g22)"/>
<circle cx="379.1" cy="258.8" r="7.0" fill="url(#g20)"/>
<circle cx="372.8" cy="258.8" r="7.0" fill="url(#g22)"/>
<circle cx="379.1" cy="183.8" r="7.0" fill="url(#g23)"/>
<circle cx="372.8" cy="183.8" r="7.0" fill="url(#g24)"/>
<circle cx="379.1" cy="280.2" r="7.0" fill="url(#g23)"/>
<circle cx="372.8" cy="280.2" r="7.0" fill="url(#g24)"/>
<circle cx="379.1" cy="162.5" r="7.0" fill="url(#g24)"/>
<circle cx="372.8" cy="162.5" r="7.0" fill="url(#g24)"/>
<circle cx="379.1" cy="301.6" r="7.0" fill="url(#g24)"/>
<circle cx="372.8" cy="301.6" r="7.0" fill="url(#g24)"/>
<circle cx="351.3" cy="232.0" r="7.0" fill="url(#g20)"/>
<circle cx="351.3" cy="210.6" r="7.0" fill="url(#g18)"/>
<circle cx="351.3" cy="253.4" r="7.0" fill="url(#g18)"/>
<circle cx="351.3" cy="189.2" r="7.0" fill="url(#g23)"/>
<circle cx="351.3" cy="274.8" r="7.0" fill="url(#g23)"/>
<circle cx="351.3" cy="167.8" r="7.0" fill="url(#g24)"/>
<circle cx="351.3" cy="296.2" r="7.0" fill="url(#g24)"/>
<circle cx="382.3" cy="221.3" r="7.0" fill="url(#g18)"/>
<circle cx="382.3" cy="242.7" r="7.0" fill="url(#g18)"/>
<circle cx="382.3" cy="199.9" r="7.0" fill="url(#g22)"/>
<circle cx="382.3" cy="264.1" r="7.0" fill="url(#g22)"/>
<circle cx="382.3" cy="178.5" r="7.0" fill="url(#g24)"/>
<circle cx="382.3" cy="285.5" r="7.0" fill="url(#g24)"/>
<circle cx="382.3" cy="157.1" r="7.0" fill="url(#g24)"/>
<circle cx="382.3" cy="306.9" r="7.0" fill="url(#g24)"/>
<circle cx="363.1" cy="232.0" r="7.0" fill="url(#g24)"/>
<circle cx="366.4" cy="237.3" r="7.0" fill="url(#g24)"/>
<circle cx="366.4" cy="226.7" r="7.0" fill="url(#g24)"/>
<circle cx="452.1" cy="178.5" r="7.0" fill="url(#g22)"/>
<circle cx="470.9" cy="317.6" r="7.0" fill="url(#g22)"/>
<circle cx="452.1" cy="199.9" r="7.0" fill="url(#g21)"/>
<circle cx="449.2" cy="205.2" r="7.0" fill="url(#g22)"/>
<circle cx="470.9" cy="296.2" r="7.0" fill="url(#g21)"/>
<circle cx="474.1" cy="290.9" r="7.0" fill="url(#g22)"/>
<circle cx="452.1" cy="221.3" r="7.0" fill="url(#g25)"/>
<circle cx="449.2" cy="226.6" r="7.0" fill="url(#g20)"/>
<circle cx="470.9" cy="274.8" r="7.0" fill="url(#g25)"/>
<circle cx="474.1" cy="269.5" r="7.0" fill="url(#g20)"/>
<circle cx="452.1" cy="242.7" r="7.0" fill="url(#g27)"/>
<circle cx="449.2" cy="248.1" r="7.0" fill="url(#g28)"/>
<circle cx="455.1" cy="248.1" r="7.0" fill="url(#g29)"/>
<circle cx="470.9" cy="253.4" r="7.0" fill="url(#g27)"/>
<circle cx="474.1" cy="248.1" r="7.0" fill="url(#g28)"/>
<circle cx="467.8" cy="248.1" r="7.0" fill="url(#g29)"/>
<circle cx="449.2" cy="194.6" r="7.0" fill="url(#g24)"/>
<circle cx="455.1" cy="194.6" r="7.0" fill="url(#g24)"/>
<circle cx="474.1" cy="301.6" r="7.0" fill="url(#g24)"/>
<circle cx="467.8" cy="301.6" r="7.0" fill="url(#g24)"/>
<circle cx="449.2" cy="215.9" r="7.0" fill="url(#g21)"/>
<circle cx="455.1" cy="215.9" r="7.0" fill="url(#g18)"/>
<circle cx="474.1" cy="280.2" r="7.0" fill="url(#g21)"/>
<circle cx="467.8" cy="280.2" r="7.0" fill="url(#g18)"/>
<circle cx="449.2" cy="237.4" r="7.0" fill="url(#g28)"/>
<circle cx="455.1" cy="237.4" r="7.0" fill="url(#g17)"/>
<circle cx="474.1" cy="258.8" r="7.0" fill="url(#g28)"/>
<circle cx="467.8" cy="258.8" r="7.0" fill="url(#g17)"/>
<circle cx="470.9" cy="167.8" r="7.0" fill="url(#g24)"/>
<circle cx="452.1" cy="328.3" r="7.0" fill="url(#g24)"/>
<circle cx="470.9" cy="189.2" r="7.0" fill="url(#g18)"/>
<circle cx="452.1" cy="306.9" r="7.0" fill="url(#g18)"/>
<circle cx="470.9" cy="210.6" r="7.0" fill="url(#g30)"/>
<circle cx="474.1" cy="215.9" r="7.0" fill="url(#g20)"/>
<circle cx="452.1" cy="285.5" r="7.0" fill="url(#g30)"/>
<circle cx="449.2" cy="280.2" r="7.0" fill="url(#g20)"/>
<circle cx="470.9" cy="232.0" r="7.0" fill="url(#g31)"/>
<circle cx="474.1" cy="237.4" r="7.0" fill="url(#g30)"/>
<circle cx="452.1" cy="264.1" r="7.0" fill="url(#g31)"/>
<circle cx="449.2" cy="258.8" r="7.0" fill="url(#g30)"/>
<circle cx="474.1" cy="183.9" r="7.0" fill="url(#g24)"/>
<circle cx="449.2" cy="312.2" r="7.0" fill="url(#g24)"/>
<circle cx="474.1" cy="205.2" r="7.0" fill="url(#g18)"/>
<circle cx="467.8" cy="205.2" r="7.0" fill="url(#g23)"/>
<circle cx="449.2" cy="290.9" r="7.0" fill="url(#g18)"/>
<circle cx="455.1" cy="290.9" r="7.0" fill="url(#g23)"/>
<circle cx="474.1" cy="226.6" r="7.0" fill="url(#g29)"/>
<circle cx="467.8" cy="226.6" r="7.0" fill="url(#g21)"/>
<circle cx="449.2" cy="269.5" r="7.0" fill="url(#g29)"/>
<circle cx="455.1" cy="269.5" r="7.0" fill="url(#g21)"/>
<circle cx="446.3" cy="210.6" r="7.0" fill="url(#g23)"/>
<circle cx="477.3" cy="285.5" r="7.0" fill="url(#g23)"/>
<circle cx="446.3" cy="232.0" r="7.0" fill="url(#g18)"/>
<circle cx="477.3" cy="264.1" r="7.0" fill="url(#g18)"/>
<circle cx="477.3" cy="221.3" r="7.0" fill="url(#g18)"/>
<circle cx="446.3" cy="274.8" r="7.0" fill="url(#g18)"/>
<circle cx="477.3" cy="242.7" r="7.0" fill="url(#g17)"/>
<circle cx="446.3" cy="253.4" r="7.0" fill="url(#g17)"/>
<circle cx="461.4" cy="248.1" r="7.0" fill="url(#g22)"/>
<circle cx="101.9" cy="174.2" r="7.0" fill="url(#g32)"/>
<circle cx="101.9" cy="271.6" r="7.0" fill="url(#g32)"/>
<circle cx="112.6" cy="174.2" r="7.0" fill="url(#g33)"/>
<circle cx="112.6" cy="271.6" r="7.0" fill="url(#g33)"/>
<circle cx="96.8" cy="183.2" r="7.0" fill="url(#g34)"/>
<circle cx="96.8" cy="262.6" r="7.0" fill="url(#g34)"/>
<circle cx="107.3" cy="183.2" r="7.0" fill="url(#g35)"/>
<circle cx="107.3" cy="262.6" r="7.0" fill="url(#g35)"/>
<circle cx="101.9" cy="192.2" r="7.0" fill="url(#g36)"/>
<circle cx="101.9" cy="253.6" r="7.0" fill="url(#g36)"/>
<circle cx="112.6" cy="192.2" r="7.0" fill="url(#g4)"/>
<circle cx="112.6" cy="253.6" r="7.0" fill="url(#g4)"/>
<circle cx="112.6" cy="197.8" r="7.0" fill="url(#g37)"/>
<circle cx="112.6" cy="248.0" r="7.0" fill="url(#g37)"/>
<circle cx="101.9" cy="197.8" r="7.0" fill="url(#g38)"/>
<circle cx="101.9" cy="248.0" r="7.0" fill="url(#g38)"/>
<circle cx="96.8" cy="201.4" r="7.0" fill="url(#g39)"/>
<circle cx="96.8" cy="244.4" r="7.0" fill="url(#g39)"/>
<circle cx="107.3" cy="201.4" r="7.0" fill="url(#g14)"/>
<circle cx="107.3" cy="244.4" r="7.0" fill="url(#g14)"/>
<circle cx="96.8" cy="207.0" r="7.0" fill="url(#g40)"/>
<circle cx="96.8" cy="238.8" r="7.0" fill="url(#g40)"/>
<circle cx="107.3" cy="207.0" r="7.0" fill="url(#g6)"/>
<circle cx="107.3" cy="238.8" r="7.0" fill="url(#g6)"/>
<circle cx="101.9" cy="210.8" r="7.0" fill="url(#g41)"/>
<circle cx="101.9" cy="235.0" r="7.0" fill="url(#g41)"/>
<circle cx="112.6" cy="210.8" r="7.0" fill="url(#g42)"/>
<circle cx="112.6" cy="235.0" r="7.0" fill="url(#g42)"/>
<circle cx="101.9" cy="215.9" r="7.0" fill="url(#g14)"/>
<circle cx="101.9" cy="229.9" r="7.0" fill="url(#g14)"/>
<circle cx="112.6" cy="215.9" r="7.0" fill="url(#g43)"/>
<circle cx="112.6" cy="229.9" r="7.0" fill="url(#g43)"/>
<circle cx="96.8" cy="220.0" r="7.0" fill="url(#g44)"/>
<circle cx="96.8" cy="225.8" r="7.0" fill="url(#g44)"/>
<circle cx="107.3" cy="220.0" r="7.0" fill="url(#g41)"/>
<circle cx="107.3" cy="225.8" r="7.0" fill="url(#g41)"/>
<circle cx="96.8" cy="281.5" r="7.0" fill="url(#g32)"/>
<circle cx="96.8" cy="164.5" r="7.0" fill="url(#g45)"/>
<circle cx="170.1" cy="183.2" r="7.0" fill="url(#g46)"/>
<circle cx="170.1" cy="281.0" r="7.0" fill="url(#g46)"/>
<circle cx="175.2" cy="191.8" r="7.0" fill="url(#g46)"/>
<circle cx="175.2" cy="272.4" r="7.0" fill="url(#g46)"/>
<circle cx="186.0" cy="191.8" r="7.0" fill="url(#g47)"/>
<circle cx="186.0" cy="272.4" r="7.0" fill="url(#g47)"/>
<circle cx="170.1" cy="201.5" r="7.0" fill="url(#g48)"/>
<circle cx="170.1" cy="262.7" r="7.0" fill="url(#g48)"/>
<circle cx="180.7" cy="201.5" r="7.0" fill="url(#g6)"/>
<circle cx="180.7" cy="262.7" r="7.0" fill="url(#g6)"/>
<circle cx="170.1" cy="206.5" r="7.0" fill="url(#g0)"/>
<circle cx="170.1" cy="257.7" r="7.0" fill="url(#g0)"/>
<circle cx="180.7" cy="206.5" r="7.0" fill="url(#g38)"/>
<circle cx="180.7" cy="257.7" r="7.0" fill="url(#g38)"/>
<circle cx="175.2" cy="210.8" r="7.0" fill="url(#g49)"/>
<circle cx="175.2" cy="253.4" r="7.0" fill="url(#g49)"/>
<circle cx="186.0" cy="210.8" r="7.0" fill="url(#g50)"/>
<circle cx="186.0" cy="253.4" r="7.0" fill="url(#g50)"/>
<circle cx="175.2" cy="215.6" r="7.0" fill="url(#g6)"/>
<circle cx="175.2" cy="248.6" r="7.0" fill="url(#g6)"/>
<circle cx="186.0" cy="215.6" r="7.0" fill="url(#g10)"/>
<circle cx="186.0" cy="248.6" r="7.0" fill="url(#g10)"/>
<circle cx="170.1" cy="219.9" r="7.0" fill="url(#g51)"/>
<circle cx="170.1" cy="244.3" r="7.0" fill="url(#g51)"/>
<circle cx="180.7" cy="219.9" r="7.0" fill="url(#g52)"/>
<circle cx="180.7" cy="244.3" r="7.0" fill="url(#g52)"/>
<circle cx="170.1" cy="225.2" r="7.0" fill="url(#g53)"/>
<circle cx="170.1" cy="239.0" r="7.0" fill="url(#g53)"/>
<circle cx="180.7" cy="225.2" r="7.0" fill="url(#g41)"/>
<circle cx="180.7" cy="239.0" r="7.0" fill="url(#g41)"/>
<circle cx="175.2" cy="229.5" r="7.0" fill="url(#g52)"/>
<circle cx="175.2" cy="234.7" r="7.0" fill="url(#g52)"/>
<circle cx="186.0" cy="229.5" r="7.0" fill="url(#g51)"/>
<circle cx="186.0" cy="234.7" r="7.0" fill="url(#g51)"/>
<circle cx="357.1" cy="224.7" r="8.8" fill="url(#g54)"/>
<circle cx="357.1" cy="239.3" r="8.8" fill="url(#g54)"/>
<circle cx="357.1" cy="203.3" r="8.8" fill="url(#g55)"/>
<circle cx="357.1" cy="260.7" r="8.8" fill="url(#g55)"/>
<circle cx="357.1" cy="181.9" r="8.8" fill="url(#g31)"/>
<circle cx="357.1" cy="282.1" r="8.8" fill="url(#g31)"/>
<circle cx="357.1" cy="160.5" r="8.8" fill="url(#g56)"/>
<circle cx="357.1" cy="303.5" r="8.8" fill="url(#g56)"/>
<circle cx="357.1" cy="139.1" r="8.8" fill="url(#g21)"/>
<circle cx="357.1" cy="324.9" r="8.8" fill="url(#g21)"/>
<circle cx="357.1" cy="117.7" r="8.8" fill="url(#g57)"/>
<circle cx="357.1" cy="346.3" r="8.8" fill="url(#g57)"/>
<circle cx="357.1" cy="96.3" r="8.8" fill="url(#g58)"/>
<circle cx="357.1" cy="367.7" r="8.8" fill="url(#g58)"/>
<circle cx="357.1" cy="74.9" r="8.8" fill="url(#g59)"/>
<circle cx="357.1" cy="389.1" r="8.8" fill="url(#g59)"/>
<circle cx="357.1" cy="217.9" r="8.8" fill="url(#g31)"/>
<circle cx="357.1" cy="246.1" r="8.8" fill="url(#g31)"/>
<circle cx="357.1" cy="196.5" r="8.8" fill="url(#g16)"/>
<circle cx="357.1" cy="267.5" r="8.8" fill="url(#g16)"/>
<circle cx="357.1" cy="175.1" r="8.8" fill="url(#g60)"/>
<circle cx="357.1" cy="288.9" r="8.8" fill="url(#g60)"/>
<circle cx="357.1" cy="153.7" r="8.8" fill="url(#g57)"/>
<circle cx="357.1" cy="310.3" r="8.8" fill="url(#g57)"/>
<circle cx="357.1" cy="132.3" r="8.8" fill="url(#g61)"/>
<circle cx="357.1" cy="331.7" r="8.8" fill="url(#g61)"/>
<circle cx="375.9" cy="235.4" r="8.8" fill="url(#g62)"/>
<circle cx="375.9" cy="228.6" r="8.8" fill="url(#g62)"/>
<circle cx="375.9" cy="214.0" r="8.8" fill="url(#g63)"/>
<circle cx="375.9" cy="250.0" r="8.8" fill="url(#g63)"/>
<circle cx="375.9" cy="192.6" r="8.8" fill="url(#g64)"/>
<circle cx="375.9" cy="271.4" r="8.8" fill="url(#g64)"/>
<circle cx="375.9" cy="171.2" r="8.8" fill="url(#g65)"/>
<circle cx="375.9" cy="292.8" r="8.8" fill="url(#g65)"/>
<circle cx="375.9" cy="149.8" r="8.8" fill="url(#g66)"/>
<circle cx="375.9" cy="314.2" r="8.8" fill="url(#g66)"/>
<circle cx="375.9" cy="128.4" r="8.8" fill="url(#g18)"/>
<circle cx="375.9" cy="335.6" r="8.8" fill="url(#g18)"/>
<circle cx="375.9" cy="107.0" r="8.8" fill="url(#g67)"/>
<circle cx="375.9" cy="357.0" r="8.8" fill="url(#g67)"/>
<circle cx="375.9" cy="85.6" r="8.8" fill="url(#g26)"/>
<circle cx="375.9" cy="378.4" r="8.8" fill="url(#g26)"/>
<circle cx="375.9" cy="207.2" r="8.8" fill="url(#g31)"/>
<circle cx="375.9" cy="256.8" r="8.8" fill="url(#g31)"/>
<circle cx="375.9" cy="185.8" r="8.8" fill="url(#g66)"/>
<circle cx="375.9" cy="278.2" r="8.8" fill="url(#g66)"/>
<circle cx="375.9" cy="164.4" r="8.8" fill="url(#g18)"/>
<circle cx="375.9" cy="299.6" r="8.8" fill="url(#g18)"/>
<circle cx="375.9" cy="143.0" r="8.8" fill="url(#g58)"/>
<circle cx="375.9" cy="321.0" r="8.8" fill="url(#g58)"/>
<circle cx="375.9" cy="121.6" r="8.8" fill="url(#g68)"/>
<circle cx="375.9" cy="342.4" r="8.8" fill="url(#g68)"/>
<circle cx="351.3" cy="235.4" r="8.8" fill="url(#g69)"/>
<circle cx="351.3" cy="228.6" r="8.8" fill="url(#g69)"/>
<circle cx="351.3" cy="214.0" r="8.8" fill="url(#g70)"/>
<circle cx="351.3" cy="250.0" r="8.8" fill="url(#g70)"/>
<circle cx="351.3" cy="192.6" r="8.8" fill="url(#g71)"/>
<circle cx="351.3" cy="271.4" r="8.8" fill="url(#g71)"/>
<circle cx="351.3" cy="171.2" r="8.8" fill="url(#g72)"/>
<circle cx="351.3" cy="292.8" r="8.8" fill="url(#g72)"/>
<circle cx="351.3" cy="149.8" r="8.8" fill="url(#g73)"/>
<circle cx="351.3" cy="314.2" r="8.8" fill="url(#g73)"/>
<circle cx="351.3" cy="128.4" r="8.8" fill="url(#g74)"/>
<circle cx="351.3" cy="335.6" r="8.8" fill="url(#g74)"/>
<circle cx="351.3" cy="107.0" r="8.8" fill="url(#g75)"/>
<circle cx="351.3" cy="357.0" r="8.8" fill="url(#g75)"/>
<circle cx="351.3" cy="207.2" r="8.8" fill="url(#g76)"/>
<circle cx="351.3" cy="256.8" r="8.8" fill="url(#g76)"/>
<circle cx="351.3" cy="185.8" r="8.8" fill="url(#g77)"/>
<circle cx="351.3" cy="278.2" r="8.8" fill="url(#g77)"/>
<circle cx="351.3" cy="164.4" r="8.8" fill="url(#g78)"/>
<circle cx="351.3" cy="299.6" r="8.8" fill="url(#g78)"/>
<circle cx="382.3" cy="224.7" r="8.8" fill="url(#g79)"/>
<circle cx="382.3" cy="239.3" r="8.8" fill="url(#g79)"/>
<circle cx="382.3" cy="203.3" r="8.8" fill="url(#g80)"/>
<circle cx="382.3" cy="260.7" r="8.8" fill="url(#g80)"/>
<circle cx="382.3" cy="181.9" r="8.8" fill="url(#g81)"/>
<circle cx="382.3" cy="282.1" r="8.8" fill="url(#g81)"/>
<circle cx="382.3" cy="160.5" r="8.8" fill="url(#g82)"/>
<circle cx="382.3" cy="303.5" r="8.8" fill="url(#g82)"/>
<circle cx="382.3" cy="139.1" r="8.8" fill="url(#g83)"/>
<circle cx="382.3" cy="324.9" r="8.8" fill="url(#g83)"/>
<circle cx="382.3" cy="117.7" r="8.8" fill="url(#g84)"/>
<circle cx="382.3" cy="346.3" r="8.8" fill="url(#g84)"/>
<circle cx="382.3" cy="217.9" r="8.8" fill="url(#g76)"/>
<circle cx="382.3" cy="246.1" r="8.8" fill="url(#g76)"/>
<circle cx="382.3" cy="196.5" r="8.8" fill="url(#g85)"/>
<circle cx="382.3" cy="267.5" r="8.8" fill="url(#g85)"/>
<circle cx="382.3" cy="175.1" r="8.8" fill="url(#g86)"/>
<circle cx="382.3" cy="288.9" r="8.8" fill="url(#g86)"/>
<circle cx="382.3" cy="153.7" r="8.8" fill="url(#g87)"/>
<circle cx="382.3" cy="310.3" r="8.8" fill="url(#g87)"/>
<circle cx="363.1" cy="235.4" r="8.8" fill="url(#g88)"/>
<circle cx="363.1" cy="228.6" r="8.8" fill="url(#g88)"/>
<circle cx="363.1" cy="214.0" r="8.8" fill="url(#g85)"/>
<circle cx="363.1" cy="250.0" r="8.8" fill="url(#g85)"/>
<circle cx="363.1" cy="192.6" r="8.8" fill="url(#g89)"/>
<circle cx="363.1" cy="271.4" r="8.8" fill="url(#g89)"/>
<circle cx="363.1" cy="171.2" r="8.8" fill="url(#g77)"/>
<circle cx="363.1" cy="292.8" r="8.8" fill="url(#g77)"/>
<circle cx="363.1" cy="149.8" r="8.8" fill="url(#g90)"/>
<circle cx="363.1" cy="314.2" r="8.8" fill="url(#g90)"/>
<circle cx="363.1" cy="128.4" r="8.8" fill="url(#g91)"/>
<circle cx="363.1" cy="335.6" r="8.8" fill="url(#g91)"/>
<circle cx="369.7" cy="224.7" r="8.8" fill="url(#g92)"/>
<circle cx="369.7" cy="239.3" r="8.8" fill="url(#g92)"/>
<circle cx="369.7" cy="203.3" r="8.8" fill="url(#g93)"/>
<circle cx="369.7" cy="260.7" r="8.8" fill="url(#g93)"/>
<circle cx="369.7" cy="181.9" r="8.8" fill="url(#g94)"/>
<circle cx="369.7" cy="282.1" r="8.8" fill="url(#g94)"/>
<circle cx="369.7" cy="160.5" r="8.8" fill="url(#g95)"/>
<circle cx="369.7" cy="303.5" r="8.8" fill="url(#g95)"/>
<circle cx="369.7" cy="139.1" r="8.8" fill="url(#g26)"/>
<circle cx="369.7" cy="324.9" r="8.8" fill="url(#g26)"/>
<circle cx="452.1" cy="139.1" r="8.8" fill="url(#g96)"/>
<circle cx="470.9" cy="357.0" r="8.8" fill="url(#g96)"/>
<circle cx="452.1" cy="160.5" r="8.8" fill="url(#g97)"/>
<circle cx="470.9" cy="335.6" r="8.8" fill="url(#g97)"/>
<circle cx="452.1" cy="181.9" r="8.8" fill="url(#g31)"/>
<circle cx="470.9" cy="314.2" r="8.8" fill="url(#g31)"/>
<circle cx="452.1" cy="203.3" r="8.8" fill="url(#g98)"/>
<circle cx="470.9" cy="292.8" r="8.8" fill="url(#g98)"/>
<circle cx="452.1" cy="224.7" r="8.8" fill="url(#g99)"/>
<circle cx="470.9" cy="271.4" r="8.8" fill="url(#g99)"/>
<circle cx="452.1" cy="246.1" r="8.8" fill="url(#g100)"/>
<circle cx="470.9" cy="250.0" r="8.8" fill="url(#g100)"/>
<circle cx="452.1" cy="175.1" r="8.8" fill="url(#g26)"/>
<circle cx="470.9" cy="321.0" r="8.8" fill="url(#g26)"/>
<circle cx="452.1" cy="196.5" r="8.8" fill="url(#g23)"/>
<circle cx="470.9" cy="299.6" r="8.8" fill="url(#g23)"/>
<circle cx="452.1" cy="217.9" r="8.8" fill="url(#g16)"/>
<circle cx="470.9" cy="278.2" r="8.8" fill="url(#g16)"/>
<circle cx="452.1" cy="239.3" r="8.8" fill="url(#g101)"/>
<circle cx="470.9" cy="256.8" r="8.8" fill="url(#g101)"/>
<circle cx="470.9" cy="128.4" r="8.8" fill="url(#g102)"/>
<circle cx="452.1" cy="367.7" r="8.8" fill="url(#g102)"/>
<circle cx="470.9" cy="149.8" r="8.8" fill="url(#g73)"/>
<circle cx="452.1" cy="346.3" r="8.8" fill="url(#g73)"/>
<circle cx="470.9" cy="171.2" r="8.8" fill="url(#g29)"/>
<circle cx="452.1" cy="324.9" r="8.8" fill="url(#g29)"/>
<circle cx="470.9" cy="192.6" r="8.8" fill="url(#g63)"/>
<circle cx="452.1" cy="303.5" r="8.8" fill="url(#g63)"/>
<circle cx="470.9" cy="214.0" r="8.8" fill="url(#g103)"/>
<circle cx="452.1" cy="282.1" r="8.8" fill="url(#g103)"/>
<circle cx="470.9" cy="235.4" r="8.8" fill="url(#g100)"/>
<circle cx="452.1" cy="260.7" r="8.8" fill="url(#g100)"/>
<circle cx="470.9" cy="164.4" r="8.8" fill="url(#g104)"/>
<circle cx="452.1" cy="331.7" r="8.8" fill="url(#g104)"/>
<circle cx="470.9" cy="185.8" r="8.8" fill="url(#g58)"/>
<circle cx="452.1" cy="310.3" r="8.8" fill="url(#g58)"/>
<circle cx="470.9" cy="207.2" r="8.8" fill="url(#g21)"/>
<circle cx="452.1" cy="288.9" r="8.8" fill="url(#g21)"/>
<circle cx="470.9" cy="228.6" r="8.8" fill="url(#g64)"/>
<circle cx="452.1" cy="267.5" r="8.8" fill="url(#g64)"/>
<circle cx="446.3" cy="171.2" r="8.8" fill="url(#g23)"/>
<circle cx="477.3" cy="324.9" r="8.8" fill="url(#g23)"/>
<circle cx="446.3" cy="192.6" r="8.8" fill="url(#g66)"/>
<circle cx="477.3" cy="303.5" r="8.8" fill="url(#g66)"/>
<circle cx="446.3" cy="214.0" r="8.8" fill="url(#g105)"/>
<circle cx="477.3" cy="282.1" r="8.8" fill="url(#g105)"/>
<circle cx="446.3" cy="235.4" r="8.8" fill="url(#g106)"/>
<circle cx="477.3" cy="260.7" r="8.8" fill="url(#g106)"/>
<circle cx="446.3" cy="228.6" r="8.8" fill="url(#g23)"/>
<circle cx="477.3" cy="267.5" r="8.8" fill="url(#g23)"/>
<circle cx="446.3" cy="207.2" r="8.8" fill="url(#g26)"/>
<circle cx="477.3" cy="288.9" r="8.8" fill="url(#g26)"/>
<circle cx="477.3" cy="160.5" r="8.8" fill="url(#g61)"/>
<circle cx="446.3" cy="335.6" r="8.8" fill="url(#g61)"/>
<circle cx="477.3" cy="181.9" r="8.8" fill="url(#g21)"/>
<circle cx="446.3" cy="314.2" r="8.8" fill="url(#g21)"/>
<circle cx="477.3" cy="203.3" r="8.8" fill="url(#g16)"/>
<circle cx="446.3" cy="292.8" r="8.8" fill="url(#g16)"/>
<circle cx="477.3" cy="224.7" r="8.8" fill="url(#g31)"/>
<circle cx="446.3" cy="271.4" r="8.8" fill="url(#g31)"/>
<circle cx="477.3" cy="246.1" r="8.8" fill="url(#g107)"/>
<circle cx="446.3" cy="250.0" r="8.8" fill="url(#g107)"/>
<circle cx="477.3" cy="239.3" r="8.8" fill="url(#g19)"/>
<circle cx="446.3" cy="256.8" r="8.8" fill="url(#g19)"/>
<circle cx="477.3" cy="217.9" r="8.8" fill="url(#g23)"/>
<circle cx="446.3" cy="278.2" r="8.8" fill="url(#g23)"/>
<circle cx="458.1" cy="171.2" r="8.8" fill="url(#g26)"/>
<circle cx="464.7" cy="324.9" r="8.8" fill="url(#g26)"/>
<circle cx="458.1" cy="192.6" r="8.8" fill="url(#g108)"/>
<circle cx="464.7" cy="303.5" r="8.8" fill="url(#g108)"/>
<circle cx="458.1" cy="214.0" r="8.8" fill="url(#g66)"/>
<circle cx="464.7" cy="282.1" r="8.8" fill="url(#g66)"/>
<circle cx="458.1" cy="235.4" r="8.8" fill="url(#g29)"/>
<circle cx="464.7" cy="260.7" r="8.8" fill="url(#g29)"/>
<circle cx="464.7" cy="181.9" r="8.8" fill="url(#g109)"/>
<circle cx="458.1" cy="314.2" r="8.8" fill="url(#g109)"/>
<circle cx="464.7" cy="203.3" r="8.8" fill="url(#g21)"/>
<circle cx="458.1" cy="292.8" r="8.8" fill="url(#g21)"/>
<circle cx="464.7" cy="224.7" r="8.8" fill="url(#g29)"/>
<circle cx="458.1" cy="271.4" r="8.8" fill="url(#g29)"/>
<circle cx="464.7" cy="246.1" r="8.8" fill="url(#g29)"/>
<circle cx="458.1" cy="250.0" r="8.8" fill="url(#g29)"/>
</g>
</g>
<rect x="549.1" y="102.4" width="19.3" height="256.4" fill="url(#cb)" stroke="#000" stroke-width="1.5"/>
<line x1="78.60" y1="43.30" x2="78.60" y2="416.10" stroke="#000" stroke-width="1.40"/>
<line x1="77.90" y1="415.40" x2="139.30" y2="415.40" stroke="#000" stroke-width="1.40"/>
<line x1="152.00" y1="415.40" x2="212.40" y2="415.40" stroke="#000" stroke-width="1.40"/>
<line x1="109.10" y1="397.00" x2="109.10" y2="415.40" stroke="#000" stroke-width="1.40"/>
<line x1="182.70" y1="397.00" x2="182.70" y2="415.40" stroke="#000" stroke-width="1.40"/>
<line x1="78.60" y1="397.00" x2="82.30" y2="397.00" stroke="#000" stroke-width="1.30"/>
<line x1="78.60" y1="366.40" x2="82.30" y2="366.40" stroke="#000" stroke-width="1.30"/>
<line x1="78.60" y1="335.80" x2="82.30" y2="335.80" stroke="#000" stroke-width="1.30"/>
<line x1="78.60" y1="305.20" x2="82.30" y2="305.20" stroke="#000" stroke-width="1.30"/>
<line x1="78.60" y1="274.60" x2="82.30" y2="274.60" stroke="#000" stroke-width="1.30"/>
<line x1="78.60" y1="244.00" x2="82.30" y2="244.00" stroke="#000" stroke-width="1.30"/>
<line x1="78.60" y1="213.40" x2="82.30" y2="213.40" stroke="#000" stroke-width="1.30"/>
<line x1="78.60" y1="182.80" x2="82.30" y2="182.80" stroke="#000" stroke-width="1.30"/>
<line x1="78.60" y1="152.20" x2="82.30" y2="152.20" stroke="#000" stroke-width="1.30"/>
<line x1="78.60" y1="121.60" x2="82.30" y2="121.60" stroke="#000" stroke-width="1.30"/>
<line x1="78.60" y1="91.00" x2="82.30" y2="91.00" stroke="#000" stroke-width="1.30"/>
<line x1="78.60" y1="60.40" x2="82.30" y2="60.40" stroke="#000" stroke-width="1.30"/>
<line x1="329.60" y1="43.40" x2="329.60" y2="416.10" stroke="#000" stroke-width="1.40"/>
<line x1="329.30" y1="415.40" x2="400.60" y2="415.40" stroke="#000" stroke-width="1.40"/>
<line x1="425.40" y1="415.40" x2="496.80" y2="415.40" stroke="#000" stroke-width="1.40"/>
<line x1="365.40" y1="400.00" x2="365.40" y2="415.40" stroke="#000" stroke-width="1.40"/>
<line x1="460.90" y1="400.00" x2="460.90" y2="415.40" stroke="#000" stroke-width="1.40"/>
<line x1="329.60" y1="379.20" x2="333.80" y2="379.20" stroke="#000" stroke-width="1.30"/>
<line x1="329.60" y1="343.40" x2="333.80" y2="343.40" stroke="#000" stroke-width="1.30"/>
<line x1="329.60" y1="307.60" x2="333.80" y2="307.60" stroke="#000" stroke-width="1.30"/>
<line x1="329.60" y1="271.80" x2="333.80" y2="271.80" stroke="#000" stroke-width="1.30"/>
<line x1="329.60" y1="236.00" x2="333.80" y2="236.00" stroke="#000" stroke-width="1.30"/>
<line x1="329.60" y1="200.20" x2="333.80" y2="200.20" stroke="#000" stroke-width="1.30"/>
<line x1="329.60" y1="164.40" x2="333.80" y2="164.40" stroke="#000" stroke-width="1.30"/>
<line x1="329.60" y1="128.60" x2="333.80" y2="128.60" stroke="#000" stroke-width="1.30"/>
<line x1="329.60" y1="92.80" x2="333.80" y2="92.80" stroke="#000" stroke-width="1.30"/>
<line x1="329.60" y1="57.00" x2="333.80" y2="57.00" stroke="#000" stroke-width="1.30"/>
<line x1="549.00" y1="307.83" x2="553.80" y2="307.83" stroke="#000" stroke-width="1.40"/>
<line x1="563.60" y1="307.83" x2="568.50" y2="307.83" stroke="#000" stroke-width="1.40"/>
<line x1="549.00" y1="256.46" x2="553.80" y2="256.46" stroke="#000" stroke-width="1.40"/>
<line x1="563.60" y1="256.46" x2="568.50" y2="256.46" stroke="#000" stroke-width="1.40"/>
<line x1="549.00" y1="205.09" x2="553.80" y2="205.09" stroke="#000" stroke-width="1.40"/>
<line x1="563.60" y1="205.09" x2="568.50" y2="205.09" stroke="#000" stroke-width="1.40"/>
<line x1="549.00" y1="153.72" x2="553.80" y2="153.72" stroke="#000" stroke-width="1.40"/>
<line x1="563.60" y1="153.72" x2="568.50" y2="153.72" stroke="#000" stroke-width="1.40"/>
<g opacity="0.999">
<text x="68.8" y="404.0" text-anchor="end" class="tk">10</text>
<text x="68.8" y="373.4" text-anchor="end" class="tk">15</text>
<text x="68.8" y="342.8" text-anchor="end" class="tk">20</text>
<text x="68.8" y="312.2" text-anchor="end" class="tk">25</text>
<text x="68.8" y="281.6" text-anchor="end" class="tk">30</text>
<text x="68.8" y="251.0" text-anchor="end" class="tk">35</text>
<text x="68.8" y="220.4" text-anchor="end" class="tk">40</text>
<text x="68.8" y="189.8" text-anchor="end" class="tk">45</text>
<text x="68.8" y="159.2" text-anchor="end" class="tk">50</text>
<text x="68.8" y="128.6" text-anchor="end" class="tk">55</text>
<text x="68.8" y="98.0" text-anchor="end" class="tk">60</text>
<text x="68.8" y="67.4" text-anchor="end" class="tk">65</text>
<text x="311" y="386.1" text-anchor="middle" class="tkb">60</text>
<text x="311" y="350.3" text-anchor="middle" class="tkb">65</text>
<text x="311" y="314.5" text-anchor="middle" class="tkb">70</text>
<text x="311" y="278.7" text-anchor="middle" class="tkb">75</text>
<text x="311" y="242.9" text-anchor="middle" class="tkb">80</text>
<text x="311" y="207.1" text-anchor="middle" class="tkb">85</text>
<text x="311" y="171.3" text-anchor="middle" class="tkb">90</text>
<text x="311" y="135.5" text-anchor="middle" class="tkb">95</text>
<text x="311" y="99.7" text-anchor="middle" class="tkb">100</text>
<text x="311" y="63.9" text-anchor="middle" class="tkb">105</text>
<text x="580.3" y="365.7" class="tkc">0.00</text>
<text x="580.3" y="314.3" class="tkc">0.01</text>
<text x="580.3" y="263.0" class="tkc">0.02</text>
<text x="580.3" y="211.6" class="tkc">0.03</text>
<text x="580.3" y="160.2" class="tkc">0.04</text>
<text x="580.3" y="108.9" class="tkc">0.05</text>
<text x="0.2" y="21.8" class="pl">(a)</text>
<text x="293.1" y="21.8" class="pl">(b)</text>
<text transform="translate(40.5,229) rotate(-90)" text-anchor="middle" class="yl" style="font-size:23.6px">Length (Å)</text>
<text transform="translate(283.5,229) rotate(-90)" text-anchor="middle" class="yl" style="font-size:23.7px">Length (Å)</text>
<text x="511.3" y="58.6" class="cl">Charge Density (10<tspan dy="-6.3" font-size="12.5">-2</tspan><tspan dy="6.3">e)</tspan></text>
</g>
</svg>
</body></html>
